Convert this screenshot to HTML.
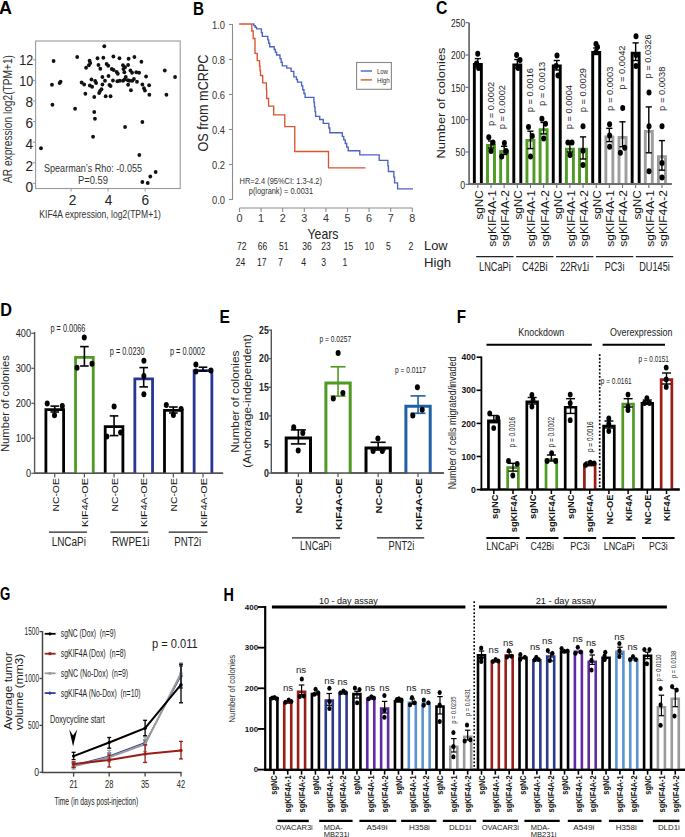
<!DOCTYPE html>
<html><head><meta charset="utf-8"><style>
html,body{margin:0;padding:0;background:#fff;}
body{width:685px;height:837px;overflow:hidden;}
svg{display:block;font-family:"Liberation Sans", sans-serif;}
</style></head><body>
<svg width="685" height="837" viewBox="0 0 685 837">
<rect x="0" y="0" width="685" height="837" fill="#fff"/>
<text x="-0.9" y="13.9" font-size="18.44" font-weight="bold" textLength="13" lengthAdjust="spacingAndGlyphs">A</text>
<rect x="35.6" y="41" width="144.6" height="147.5" fill="none" stroke="#9a9a9a" stroke-width="1.1"/>
<line x1="32.8" y1="183.4" x2="35.6" y2="183.4" stroke="#9a9a9a" stroke-width="1"/>
<text x="33.2" y="191.67" font-size="15" text-anchor="end" fill="#222" textLength="7.6" lengthAdjust="spacingAndGlyphs">0</text>
<line x1="32.8" y1="162.8" x2="35.6" y2="162.8" stroke="#9a9a9a" stroke-width="1"/>
<text x="33.2" y="170.57" font-size="15" text-anchor="end" fill="#222" textLength="7.6" lengthAdjust="spacingAndGlyphs">2</text>
<line x1="32.8" y1="142.2" x2="35.6" y2="142.2" stroke="#9a9a9a" stroke-width="1"/>
<text x="33.2" y="149.47" font-size="15" text-anchor="end" fill="#222" textLength="7.6" lengthAdjust="spacingAndGlyphs">4</text>
<line x1="32.8" y1="121.6" x2="35.6" y2="121.6" stroke="#9a9a9a" stroke-width="1"/>
<text x="33.2" y="128.37" font-size="15" text-anchor="end" fill="#222" textLength="7.6" lengthAdjust="spacingAndGlyphs">6</text>
<line x1="32.8" y1="101" x2="35.6" y2="101" stroke="#9a9a9a" stroke-width="1"/>
<text x="33.2" y="107.27" font-size="15" text-anchor="end" fill="#222" textLength="7.6" lengthAdjust="spacingAndGlyphs">8</text>
<line x1="32.8" y1="80.4" x2="35.6" y2="80.4" stroke="#9a9a9a" stroke-width="1"/>
<text x="33.2" y="86.17" font-size="15" text-anchor="end" fill="#222" textLength="13.9" lengthAdjust="spacingAndGlyphs">10</text>
<line x1="32.8" y1="59.8" x2="35.6" y2="59.8" stroke="#9a9a9a" stroke-width="1"/>
<text x="33.2" y="65.07" font-size="15" text-anchor="end" fill="#222" textLength="13.9" lengthAdjust="spacingAndGlyphs">12</text>
<line x1="71.09" y1="188.5" x2="71.09" y2="191.5" stroke="#9a9a9a" stroke-width="1"/>
<text x="72.6" y="205.37" font-size="15" text-anchor="middle" fill="#222" textLength="7.6" lengthAdjust="spacingAndGlyphs">2</text>
<line x1="108.13" y1="188.5" x2="108.13" y2="191.5" stroke="#9a9a9a" stroke-width="1"/>
<text x="108.5" y="205.37" font-size="15" text-anchor="middle" fill="#222" textLength="7.6" lengthAdjust="spacingAndGlyphs">4</text>
<line x1="145.17" y1="188.5" x2="145.17" y2="191.5" stroke="#9a9a9a" stroke-width="1"/>
<text x="145.4" y="205.37" font-size="15" text-anchor="middle" fill="#222" textLength="7.6" lengthAdjust="spacingAndGlyphs">6</text>
<text transform="translate(7.6 119) rotate(-90)" x="0" y="4.3" font-size="12" text-anchor="middle" fill="#333" textLength="128" lengthAdjust="spacingAndGlyphs">AR expression log2(TPM+1)</text>
<text x="39.3" y="217.52" font-size="11.5" fill="#333" textLength="121.5" lengthAdjust="spacingAndGlyphs">KIF4A expression, log2(TPM+1)</text>
<text x="44" y="171.57" font-size="10.8" fill="#333" textLength="98" lengthAdjust="spacingAndGlyphs">Spearman’s Rho: -0.055</text>
<text x="77.9" y="183.67" font-size="10.8" fill="#333" textLength="30" lengthAdjust="spacingAndGlyphs">P=0.59</text>
<ellipse cx="104.28" cy="46.21" rx="1.9" ry="2" fill="#111"/>
<ellipse cx="53.59" cy="60.93" rx="1.9" ry="2" fill="#111"/>
<ellipse cx="77.19" cy="56.96" rx="1.9" ry="2" fill="#111"/>
<ellipse cx="89.57" cy="60.69" rx="1.9" ry="2" fill="#111"/>
<ellipse cx="90.27" cy="63.03" rx="1.9" ry="2" fill="#111"/>
<ellipse cx="88.86" cy="65.37" rx="1.9" ry="2" fill="#111"/>
<ellipse cx="86.06" cy="67.7" rx="1.9" ry="2" fill="#111"/>
<ellipse cx="97.51" cy="58.36" rx="1.9" ry="2" fill="#111"/>
<ellipse cx="103.35" cy="57.66" rx="1.9" ry="2" fill="#111"/>
<ellipse cx="113.39" cy="56.49" rx="1.9" ry="2" fill="#111"/>
<ellipse cx="119.47" cy="58.36" rx="1.9" ry="2" fill="#111"/>
<ellipse cx="128.58" cy="58.83" rx="1.9" ry="2" fill="#111"/>
<ellipse cx="134.41" cy="56.96" rx="1.9" ry="2" fill="#111"/>
<ellipse cx="141.42" cy="61.63" rx="1.9" ry="2" fill="#111"/>
<ellipse cx="98.44" cy="64.9" rx="1.9" ry="2" fill="#111"/>
<ellipse cx="100.31" cy="68.64" rx="1.9" ry="2" fill="#111"/>
<ellipse cx="106.62" cy="63.97" rx="1.9" ry="2" fill="#111"/>
<ellipse cx="108.25" cy="65.83" rx="1.9" ry="2" fill="#111"/>
<ellipse cx="111.76" cy="69.1" rx="1.9" ry="2" fill="#111"/>
<ellipse cx="113.63" cy="70.04" rx="1.9" ry="2" fill="#111"/>
<ellipse cx="116.66" cy="71.91" rx="1.9" ry="2" fill="#111"/>
<ellipse cx="117.83" cy="73.78" rx="1.9" ry="2" fill="#111"/>
<ellipse cx="122.97" cy="65.37" rx="1.9" ry="2" fill="#111"/>
<ellipse cx="123.44" cy="69.1" rx="1.9" ry="2" fill="#111"/>
<ellipse cx="125.07" cy="67.24" rx="1.9" ry="2" fill="#111"/>
<ellipse cx="128.11" cy="64.9" rx="1.9" ry="2" fill="#111"/>
<ellipse cx="124.37" cy="72.37" rx="1.9" ry="2" fill="#111"/>
<ellipse cx="130.44" cy="70.51" rx="1.9" ry="2" fill="#111"/>
<ellipse cx="132.08" cy="72.84" rx="1.9" ry="2" fill="#111"/>
<ellipse cx="136.28" cy="72.37" rx="1.9" ry="2" fill="#111"/>
<ellipse cx="139.09" cy="72.84" rx="1.9" ry="2" fill="#111"/>
<ellipse cx="164.78" cy="70.51" rx="1.9" ry="2" fill="#111"/>
<ellipse cx="175.06" cy="77.05" rx="1.9" ry="2" fill="#111"/>
<ellipse cx="146.09" cy="76.58" rx="1.9" ry="2" fill="#111"/>
<ellipse cx="51.96" cy="84.75" rx="1.9" ry="2" fill="#111"/>
<ellipse cx="60.6" cy="81.72" rx="1.9" ry="2" fill="#111"/>
<ellipse cx="59.67" cy="82.89" rx="1.9" ry="2" fill="#111"/>
<ellipse cx="81.62" cy="82.42" rx="1.9" ry="2" fill="#111"/>
<ellipse cx="84.19" cy="84.52" rx="1.9" ry="2" fill="#111"/>
<ellipse cx="85.36" cy="93.86" rx="1.9" ry="2" fill="#111"/>
<ellipse cx="91.43" cy="79.38" rx="1.9" ry="2" fill="#111"/>
<ellipse cx="89.8" cy="85.46" rx="1.9" ry="2" fill="#111"/>
<ellipse cx="92.14" cy="86.86" rx="1.9" ry="2" fill="#111"/>
<ellipse cx="95.17" cy="81.02" rx="1.9" ry="2" fill="#111"/>
<ellipse cx="96.11" cy="83.12" rx="1.9" ry="2" fill="#111"/>
<ellipse cx="102.41" cy="77.05" rx="1.9" ry="2" fill="#111"/>
<ellipse cx="104.98" cy="80.78" rx="1.9" ry="2" fill="#111"/>
<ellipse cx="108.49" cy="76.11" rx="1.9" ry="2" fill="#111"/>
<ellipse cx="102.41" cy="84.52" rx="1.9" ry="2" fill="#111"/>
<ellipse cx="109.42" cy="84.99" rx="1.9" ry="2" fill="#111"/>
<ellipse cx="110.59" cy="85.92" rx="1.9" ry="2" fill="#111"/>
<ellipse cx="112.92" cy="80.55" rx="1.9" ry="2" fill="#111"/>
<ellipse cx="117.36" cy="81.25" rx="1.9" ry="2" fill="#111"/>
<ellipse cx="119.7" cy="80.78" rx="1.9" ry="2" fill="#111"/>
<ellipse cx="122.97" cy="80.78" rx="1.9" ry="2" fill="#111"/>
<ellipse cx="124.6" cy="79.38" rx="1.9" ry="2" fill="#111"/>
<ellipse cx="125.77" cy="77.05" rx="1.9" ry="2" fill="#111"/>
<ellipse cx="127.87" cy="80.32" rx="1.9" ry="2" fill="#111"/>
<ellipse cx="128.11" cy="84.75" rx="1.9" ry="2" fill="#111"/>
<ellipse cx="129.51" cy="80.78" rx="1.9" ry="2" fill="#111"/>
<ellipse cx="132.31" cy="80.78" rx="1.9" ry="2" fill="#111"/>
<ellipse cx="133.95" cy="78.91" rx="1.9" ry="2" fill="#111"/>
<ellipse cx="136.98" cy="81.72" rx="1.9" ry="2" fill="#111"/>
<ellipse cx="130.91" cy="90.13" rx="1.9" ry="2" fill="#111"/>
<ellipse cx="142.36" cy="84.52" rx="1.9" ry="2" fill="#111"/>
<ellipse cx="143.99" cy="88.26" rx="1.9" ry="2" fill="#111"/>
<ellipse cx="144.93" cy="90.59" rx="1.9" ry="2" fill="#111"/>
<ellipse cx="149.13" cy="85.22" rx="1.9" ry="2" fill="#111"/>
<ellipse cx="149.36" cy="94.8" rx="1.9" ry="2" fill="#111"/>
<ellipse cx="166.42" cy="94.8" rx="1.9" ry="2" fill="#111"/>
<ellipse cx="94.24" cy="96.9" rx="1.9" ry="2" fill="#111"/>
<ellipse cx="100.08" cy="91.06" rx="1.9" ry="2" fill="#111"/>
<ellipse cx="99.14" cy="92.93" rx="1.9" ry="2" fill="#111"/>
<ellipse cx="101.48" cy="89.19" rx="1.9" ry="2" fill="#111"/>
<ellipse cx="105.68" cy="96.2" rx="1.9" ry="2" fill="#111"/>
<ellipse cx="110.59" cy="96.2" rx="1.9" ry="2" fill="#111"/>
<ellipse cx="52.42" cy="104.84" rx="1.9" ry="2" fill="#111"/>
<ellipse cx="75.08" cy="108.81" rx="1.9" ry="2" fill="#111"/>
<ellipse cx="94.24" cy="112.08" rx="1.9" ry="2" fill="#111"/>
<ellipse cx="94.94" cy="118.63" rx="1.9" ry="2" fill="#111"/>
<ellipse cx="93.07" cy="136.85" rx="1.9" ry="2" fill="#111"/>
<ellipse cx="125.07" cy="127.03" rx="1.9" ry="2" fill="#111"/>
<ellipse cx="142.36" cy="121.9" rx="1.9" ry="2" fill="#111"/>
<ellipse cx="40.98" cy="148.29" rx="1.9" ry="2" fill="#111"/>
<ellipse cx="139.32" cy="155.07" rx="1.9" ry="2" fill="#111"/>
<ellipse cx="155.67" cy="172.12" rx="1.9" ry="2" fill="#111"/>
<ellipse cx="150.3" cy="176.56" rx="1.9" ry="2" fill="#111"/>
<ellipse cx="142.36" cy="181.93" rx="1.9" ry="2" fill="#111"/>
<ellipse cx="147.73" cy="183.1" rx="1.9" ry="2" fill="#111"/>
<text x="192.9" y="14.8" font-size="18.16" font-weight="bold" textLength="11" lengthAdjust="spacingAndGlyphs">B</text>
<line x1="232.5" y1="24" x2="232.5" y2="200" stroke="#8c8c8c" stroke-width="1.1"/>
<line x1="229" y1="24.5" x2="232.5" y2="24.5" stroke="#8c8c8c" stroke-width="1.1"/>
<text x="225" y="28.87" font-size="10.8" text-anchor="end" fill="#333" textLength="13" lengthAdjust="spacingAndGlyphs">1.0</text>
<line x1="229" y1="59.5" x2="232.5" y2="59.5" stroke="#8c8c8c" stroke-width="1.1"/>
<text x="225" y="63.87" font-size="10.8" text-anchor="end" fill="#333" textLength="13" lengthAdjust="spacingAndGlyphs">0.8</text>
<line x1="229" y1="94.5" x2="232.5" y2="94.5" stroke="#8c8c8c" stroke-width="1.1"/>
<text x="225" y="98.87" font-size="10.8" text-anchor="end" fill="#333" textLength="13" lengthAdjust="spacingAndGlyphs">0.6</text>
<line x1="229" y1="129.5" x2="232.5" y2="129.5" stroke="#8c8c8c" stroke-width="1.1"/>
<text x="225" y="133.87" font-size="10.8" text-anchor="end" fill="#333" textLength="13" lengthAdjust="spacingAndGlyphs">0.4</text>
<line x1="229" y1="164.5" x2="232.5" y2="164.5" stroke="#8c8c8c" stroke-width="1.1"/>
<text x="225" y="168.87" font-size="10.8" text-anchor="end" fill="#333" textLength="13" lengthAdjust="spacingAndGlyphs">0.2</text>
<line x1="229" y1="199.5" x2="232.5" y2="199.5" stroke="#8c8c8c" stroke-width="1.1"/>
<text x="225" y="203.87" font-size="10.8" text-anchor="end" fill="#333" textLength="13" lengthAdjust="spacingAndGlyphs">0.0</text>
<text transform="translate(202.7 103) rotate(-90)" x="0" y="5.08" font-size="14.2" text-anchor="middle" fill="#222" textLength="97" lengthAdjust="spacingAndGlyphs">OS from mCRPC</text>
<line x1="239.5" y1="208" x2="412.5" y2="208" stroke="#8c8c8c" stroke-width="1.1"/>
<line x1="239.5" y1="208" x2="239.5" y2="212" stroke="#8c8c8c" stroke-width="1.1"/>
<text x="239.5" y="222.47" font-size="10.8" text-anchor="middle" fill="#333" textLength="6" lengthAdjust="spacingAndGlyphs">0</text>
<line x1="261.1" y1="208" x2="261.1" y2="212" stroke="#8c8c8c" stroke-width="1.1"/>
<text x="261.1" y="222.47" font-size="10.8" text-anchor="middle" fill="#333" textLength="6" lengthAdjust="spacingAndGlyphs">1</text>
<line x1="282.7" y1="208" x2="282.7" y2="212" stroke="#8c8c8c" stroke-width="1.1"/>
<text x="282.7" y="222.47" font-size="10.8" text-anchor="middle" fill="#333" textLength="6" lengthAdjust="spacingAndGlyphs">2</text>
<line x1="304.3" y1="208" x2="304.3" y2="212" stroke="#8c8c8c" stroke-width="1.1"/>
<text x="304.3" y="222.47" font-size="10.8" text-anchor="middle" fill="#333" textLength="6" lengthAdjust="spacingAndGlyphs">3</text>
<line x1="325.9" y1="208" x2="325.9" y2="212" stroke="#8c8c8c" stroke-width="1.1"/>
<text x="325.9" y="222.47" font-size="10.8" text-anchor="middle" fill="#333" textLength="6" lengthAdjust="spacingAndGlyphs">4</text>
<line x1="347.5" y1="208" x2="347.5" y2="212" stroke="#8c8c8c" stroke-width="1.1"/>
<text x="347.5" y="222.47" font-size="10.8" text-anchor="middle" fill="#333" textLength="6" lengthAdjust="spacingAndGlyphs">5</text>
<line x1="369.1" y1="208" x2="369.1" y2="212" stroke="#8c8c8c" stroke-width="1.1"/>
<text x="369.1" y="222.47" font-size="10.8" text-anchor="middle" fill="#333" textLength="6" lengthAdjust="spacingAndGlyphs">6</text>
<line x1="390.7" y1="208" x2="390.7" y2="212" stroke="#8c8c8c" stroke-width="1.1"/>
<text x="390.7" y="222.47" font-size="10.8" text-anchor="middle" fill="#333" textLength="6" lengthAdjust="spacingAndGlyphs">7</text>
<line x1="412.3" y1="208" x2="412.3" y2="212" stroke="#8c8c8c" stroke-width="1.1"/>
<text x="412.3" y="222.47" font-size="10.8" text-anchor="middle" fill="#333" textLength="6" lengthAdjust="spacingAndGlyphs">8</text>
<text x="323" y="238.66" font-size="14.4" text-anchor="middle" fill="#222" textLength="31" lengthAdjust="spacingAndGlyphs">Years</text>
<text x="241.7" y="249.57" font-size="10.8" text-anchor="middle" fill="#222" textLength="9.5" lengthAdjust="spacingAndGlyphs">72</text>
<text x="262.6" y="249.57" font-size="10.8" text-anchor="middle" fill="#222" textLength="9.5" lengthAdjust="spacingAndGlyphs">66</text>
<text x="283.8" y="249.57" font-size="10.8" text-anchor="middle" fill="#222" textLength="9.5" lengthAdjust="spacingAndGlyphs">51</text>
<text x="307" y="249.57" font-size="10.8" text-anchor="middle" fill="#222" textLength="9.5" lengthAdjust="spacingAndGlyphs">36</text>
<text x="326" y="249.57" font-size="10.8" text-anchor="middle" fill="#222" textLength="9.5" lengthAdjust="spacingAndGlyphs">23</text>
<text x="348.4" y="249.57" font-size="10.8" text-anchor="middle" fill="#222" textLength="9.5" lengthAdjust="spacingAndGlyphs">15</text>
<text x="369.2" y="249.57" font-size="10.8" text-anchor="middle" fill="#222" textLength="9.5" lengthAdjust="spacingAndGlyphs">10</text>
<text x="388.5" y="249.57" font-size="10.8" text-anchor="middle" fill="#222" textLength="4.8" lengthAdjust="spacingAndGlyphs">5</text>
<text x="411" y="249.57" font-size="10.8" text-anchor="middle" fill="#222" textLength="4.8" lengthAdjust="spacingAndGlyphs">2</text>
<text x="240.5" y="266.27" font-size="10.8" text-anchor="middle" fill="#222" textLength="9.5" lengthAdjust="spacingAndGlyphs">24</text>
<text x="261.7" y="266.27" font-size="10.8" text-anchor="middle" fill="#222" textLength="9.5" lengthAdjust="spacingAndGlyphs">17</text>
<text x="280.3" y="266.27" font-size="10.8" text-anchor="middle" fill="#222" textLength="4.8" lengthAdjust="spacingAndGlyphs">7</text>
<text x="303.7" y="266.27" font-size="10.8" text-anchor="middle" fill="#222" textLength="4.8" lengthAdjust="spacingAndGlyphs">4</text>
<text x="323.6" y="266.27" font-size="10.8" text-anchor="middle" fill="#222" textLength="4.8" lengthAdjust="spacingAndGlyphs">3</text>
<text x="345" y="266.27" font-size="10.8" text-anchor="middle" fill="#222" textLength="4.8" lengthAdjust="spacingAndGlyphs">1</text>
<text x="424.1" y="250.23" font-size="13.5" fill="#222" textLength="23.5" lengthAdjust="spacingAndGlyphs">Low</text>
<text x="424.1" y="266.53" font-size="13.5" fill="#222" textLength="27" lengthAdjust="spacingAndGlyphs">High</text>
<text x="239.5" y="183.58" font-size="8.6" fill="#333" textLength="82.5" lengthAdjust="spacingAndGlyphs">HR=2.4 (95%CI: 1.3-4.2)</text>
<text x="248.8" y="194.18" font-size="8.6" fill="#333" textLength="64.2" lengthAdjust="spacingAndGlyphs">p(logrank) = 0.0031</text>
<rect x="356.6" y="62.5" width="34.8" height="26.8" fill="#fff" stroke="#888" stroke-width="1.1"/>
<line x1="360.7" y1="71" x2="372" y2="71" stroke="#4a63c4" stroke-width="1.4"/>
<line x1="360.7" y1="79.9" x2="372" y2="79.9" stroke="#d9552f" stroke-width="1.4"/>
<text x="376.9" y="73.89" font-size="7.8" fill="#333" textLength="11.1" lengthAdjust="spacingAndGlyphs">Low</text>
<text x="376.9" y="82.69" font-size="7.8" fill="#333" textLength="12.8" lengthAdjust="spacingAndGlyphs">High</text>
<path d="M252.5,24H253.87V25.6H255.23V27.2H256.6V28.8H260.5H261.4V32.6H262.3V36.4H266.8H267.77V39.83H268.73V43.27H269.7V46.7H273H274.2V49.47H275.4V52.23H276.6V55H278.8H279.97V58.6H281.13V62.2H282.3V65.8H286.4H286.8V68.1H290.5H291.1V71.3H293.4H293.8V76.9H295.3H296.4V79.5H297.5V82.1H300.4H301.57V85.9H302.75V89.7H303.93V93.5H305.1V97.3H313.3H313.88V102.05H314.45V106.8H315.03V111.55H315.6V116.3H318.5H319.7V119.5H322.6H323.2V123.3H327.9H328.85V128H329.8V132.7H340.8H342.28V136.3H343.76V139.9H345.24V143.5H346.72V147.1H348.2V150.7H359.8H359.8V154.8H379.2H379.2V160.3H387.4H387.9V165.9H388.4V171.5H393.1H393.85V177.15H394.6V182.8H397.6H397.6V188.9H413" stroke="#4a63c4" stroke-width="1.35" fill="none"/>
<path d="M239.1,24H251.8V31H253.2V38.5H255V53.3H257.2V60.6H259.1H259.6V66H260V70.5H260.5V75.5H262.7V82.8H266.1H266.4V90H266.7V98.5H268.6V106.1H273.7V114.9H284.8V126.6H294.8V151.5H328.5V167.9H365.5" stroke="#d9552f" stroke-width="1.35" fill="none"/>
<text x="436" y="13.9" font-size="18.16" font-weight="bold" textLength="11.4" lengthAdjust="spacingAndGlyphs">C</text>
<line x1="469.1" y1="22.7" x2="469.1" y2="185" stroke="#6f6f6f" stroke-width="1.8"/>
<line x1="465.5" y1="184.3" x2="469.1" y2="184.3" stroke="#6f6f6f" stroke-width="1.2"/>
<text x="465.2" y="188.52" font-size="11.8" text-anchor="end" fill="#222" textLength="4.9" lengthAdjust="spacingAndGlyphs">0</text>
<line x1="465.5" y1="151.98" x2="469.1" y2="151.98" stroke="#6f6f6f" stroke-width="1.2"/>
<text x="465.2" y="156.2" font-size="11.8" text-anchor="end" fill="#222" textLength="9.6" lengthAdjust="spacingAndGlyphs">50</text>
<line x1="465.5" y1="119.66" x2="469.1" y2="119.66" stroke="#6f6f6f" stroke-width="1.2"/>
<text x="465.2" y="123.88" font-size="11.8" text-anchor="end" fill="#222" textLength="14.1" lengthAdjust="spacingAndGlyphs">100</text>
<line x1="465.5" y1="87.34" x2="469.1" y2="87.34" stroke="#6f6f6f" stroke-width="1.2"/>
<text x="465.2" y="91.56" font-size="11.8" text-anchor="end" fill="#222" textLength="14.1" lengthAdjust="spacingAndGlyphs">150</text>
<line x1="465.5" y1="55.02" x2="469.1" y2="55.02" stroke="#6f6f6f" stroke-width="1.2"/>
<text x="465.2" y="59.24" font-size="11.8" text-anchor="end" fill="#222" textLength="14.1" lengthAdjust="spacingAndGlyphs">200</text>
<line x1="465.5" y1="22.7" x2="469.1" y2="22.7" stroke="#6f6f6f" stroke-width="1.2"/>
<text x="465.2" y="26.92" font-size="11.8" text-anchor="end" fill="#222" textLength="14.1" lengthAdjust="spacingAndGlyphs">250</text>
<text transform="translate(440.7 103) rotate(-90)" x="0" y="3.94" font-size="11" text-anchor="middle" fill="#222" textLength="111" lengthAdjust="spacingAndGlyphs">Number of colonies</text>
<line x1="468.2" y1="184" x2="671.7" y2="184" stroke="#6f6f6f" stroke-width="1.8"/>
<path d="M474.35,184.5V64.55H481.35V184.5" fill="#fff" stroke="#000" stroke-width="2.9" stroke-linejoin="miter"/>
<line x1="477.85" y1="58.6" x2="477.85" y2="67" stroke="#000" stroke-width="1.4"/>
<line x1="474.75" y1="58.6" x2="480.95" y2="58.6" stroke="#000" stroke-width="1.4"/>
<line x1="474.75" y1="67" x2="480.95" y2="67" stroke="#000" stroke-width="1.4"/>
<ellipse cx="477.7" cy="53.8" rx="2.5" ry="3" fill="#000"/>
<ellipse cx="476.5" cy="63.5" rx="2.5" ry="3" fill="#000"/>
<ellipse cx="478.6" cy="68" rx="2.5" ry="3" fill="#000"/>
<line x1="477.85" y1="184.5" x2="477.85" y2="188" stroke="#6f6f6f" stroke-width="1.1"/>
<text transform="translate(479.25 190.2) rotate(-90)" x="0" y="3.58" font-size="10" text-anchor="end" fill="#111" textLength="29.3" lengthAdjust="spacingAndGlyphs">sgNC</text>
<path d="M487.5,184.5V145.35H494.5V184.5" fill="#fff" stroke="#4f9a22" stroke-width="2.9" stroke-linejoin="miter"/>
<line x1="491" y1="141" x2="491" y2="148" stroke="#000" stroke-width="1.4"/>
<line x1="487.9" y1="141" x2="494.1" y2="141" stroke="#000" stroke-width="1.4"/>
<line x1="487.9" y1="148" x2="494.1" y2="148" stroke="#000" stroke-width="1.4"/>
<ellipse cx="488.8" cy="137.3" rx="2.5" ry="3" fill="#000"/>
<ellipse cx="493" cy="142.5" rx="2.5" ry="3" fill="#000"/>
<ellipse cx="491" cy="150.9" rx="2.5" ry="3" fill="#000"/>
<line x1="491" y1="184.5" x2="491" y2="188" stroke="#6f6f6f" stroke-width="1.1"/>
<text transform="translate(492.4 190.2) rotate(-90)" x="0" y="3.58" font-size="10" text-anchor="end" fill="#111" textLength="56.5" lengthAdjust="spacingAndGlyphs">sgKIF4A-1</text>
<path d="M500.65,184.5V151.55H507.65V184.5" fill="#fff" stroke="#4f9a22" stroke-width="2.9" stroke-linejoin="miter"/>
<line x1="504.15" y1="146.3" x2="504.15" y2="154.5" stroke="#000" stroke-width="1.4"/>
<line x1="501.05" y1="146.3" x2="507.25" y2="146.3" stroke="#000" stroke-width="1.4"/>
<line x1="501.05" y1="154.5" x2="507.25" y2="154.5" stroke="#000" stroke-width="1.4"/>
<ellipse cx="504.4" cy="143" rx="2.5" ry="3" fill="#000"/>
<ellipse cx="506.2" cy="150.9" rx="2.5" ry="3" fill="#000"/>
<ellipse cx="501.7" cy="156.6" rx="2.5" ry="3" fill="#000"/>
<line x1="504.15" y1="184.5" x2="504.15" y2="188" stroke="#6f6f6f" stroke-width="1.1"/>
<text transform="translate(505.55 190.2) rotate(-90)" x="0" y="3.58" font-size="10" text-anchor="end" fill="#111" textLength="56.5" lengthAdjust="spacingAndGlyphs">sgKIF4A-2</text>
<path d="M513.8,184.5V64.95H520.8V184.5" fill="#fff" stroke="#000" stroke-width="2.9" stroke-linejoin="miter"/>
<line x1="517.3" y1="59.5" x2="517.3" y2="68" stroke="#000" stroke-width="1.4"/>
<line x1="514.2" y1="59.5" x2="520.4" y2="59.5" stroke="#000" stroke-width="1.4"/>
<line x1="514.2" y1="68" x2="520.4" y2="68" stroke="#000" stroke-width="1.4"/>
<ellipse cx="516.6" cy="54.9" rx="2.5" ry="3" fill="#000"/>
<ellipse cx="520" cy="60.1" rx="2.5" ry="3" fill="#000"/>
<ellipse cx="518" cy="68.1" rx="2.5" ry="3" fill="#000"/>
<line x1="517.3" y1="184.5" x2="517.3" y2="188" stroke="#6f6f6f" stroke-width="1.1"/>
<text transform="translate(518.7 190.2) rotate(-90)" x="0" y="3.58" font-size="10" text-anchor="end" fill="#111" textLength="29.3" lengthAdjust="spacingAndGlyphs">sgNC</text>
<path d="M526.95,184.5V140.35H533.95V184.5" fill="#fff" stroke="#4f9a22" stroke-width="2.9" stroke-linejoin="miter"/>
<line x1="530.45" y1="131.2" x2="530.45" y2="148.6" stroke="#000" stroke-width="1.4"/>
<line x1="527.35" y1="131.2" x2="533.55" y2="131.2" stroke="#000" stroke-width="1.4"/>
<line x1="527.35" y1="148.6" x2="533.55" y2="148.6" stroke="#000" stroke-width="1.4"/>
<ellipse cx="528.5" cy="127" rx="2.5" ry="3" fill="#000"/>
<ellipse cx="532.3" cy="136.1" rx="2.5" ry="3" fill="#000"/>
<ellipse cx="530.5" cy="156.6" rx="2.5" ry="3" fill="#000"/>
<line x1="530.45" y1="184.5" x2="530.45" y2="188" stroke="#6f6f6f" stroke-width="1.1"/>
<text transform="translate(531.85 190.2) rotate(-90)" x="0" y="3.58" font-size="10" text-anchor="end" fill="#111" textLength="56.5" lengthAdjust="spacingAndGlyphs">sgKIF4A-1</text>
<path d="M540.1,184.5V129.65H547.1V184.5" fill="#fff" stroke="#4f9a22" stroke-width="2.9" stroke-linejoin="miter"/>
<line x1="543.6" y1="122.5" x2="543.6" y2="133.9" stroke="#000" stroke-width="1.4"/>
<line x1="540.5" y1="122.5" x2="546.7" y2="122.5" stroke="#000" stroke-width="1.4"/>
<line x1="540.5" y1="133.9" x2="546.7" y2="133.9" stroke="#000" stroke-width="1.4"/>
<ellipse cx="541.9" cy="118.7" rx="2.5" ry="3" fill="#000"/>
<ellipse cx="545.5" cy="123.7" rx="2.5" ry="3" fill="#000"/>
<ellipse cx="543.7" cy="138.4" rx="2.5" ry="3" fill="#000"/>
<line x1="543.6" y1="184.5" x2="543.6" y2="188" stroke="#6f6f6f" stroke-width="1.1"/>
<text transform="translate(545 190.2) rotate(-90)" x="0" y="3.58" font-size="10" text-anchor="end" fill="#111" textLength="56.5" lengthAdjust="spacingAndGlyphs">sgKIF4A-2</text>
<path d="M553.25,184.5V66.05H560.25V184.5" fill="#fff" stroke="#000" stroke-width="2.9" stroke-linejoin="miter"/>
<line x1="556.75" y1="60.5" x2="556.75" y2="70" stroke="#000" stroke-width="1.4"/>
<line x1="553.65" y1="60.5" x2="559.85" y2="60.5" stroke="#000" stroke-width="1.4"/>
<line x1="553.65" y1="70" x2="559.85" y2="70" stroke="#000" stroke-width="1.4"/>
<ellipse cx="557" cy="55.5" rx="2.5" ry="3" fill="#000"/>
<ellipse cx="556" cy="66" rx="2.5" ry="3" fill="#000"/>
<ellipse cx="558" cy="75.5" rx="2.5" ry="3" fill="#000"/>
<line x1="556.75" y1="184.5" x2="556.75" y2="188" stroke="#6f6f6f" stroke-width="1.1"/>
<text transform="translate(558.15 190.2) rotate(-90)" x="0" y="3.58" font-size="10" text-anchor="end" fill="#111" textLength="29.3" lengthAdjust="spacingAndGlyphs">sgNC</text>
<path d="M566.4,184.5V149.15H573.4V184.5" fill="#fff" stroke="#4f9a22" stroke-width="2.9" stroke-linejoin="miter"/>
<line x1="569.9" y1="143.5" x2="569.9" y2="152" stroke="#000" stroke-width="1.4"/>
<line x1="566.8" y1="143.5" x2="573" y2="143.5" stroke="#000" stroke-width="1.4"/>
<line x1="566.8" y1="152" x2="573" y2="152" stroke="#000" stroke-width="1.4"/>
<ellipse cx="567.9" cy="142.6" rx="2.5" ry="3" fill="#000"/>
<ellipse cx="572" cy="142.6" rx="2.5" ry="3" fill="#000"/>
<ellipse cx="570" cy="154.9" rx="2.5" ry="3" fill="#000"/>
<line x1="569.9" y1="184.5" x2="569.9" y2="188" stroke="#6f6f6f" stroke-width="1.1"/>
<text transform="translate(571.3 190.2) rotate(-90)" x="0" y="3.58" font-size="10" text-anchor="end" fill="#111" textLength="56.5" lengthAdjust="spacingAndGlyphs">sgKIF4A-1</text>
<path d="M579.55,184.5V149.15H586.55V184.5" fill="#fff" stroke="#4f9a22" stroke-width="2.9" stroke-linejoin="miter"/>
<line x1="583.05" y1="136.9" x2="583.05" y2="159" stroke="#000" stroke-width="1.4"/>
<line x1="579.95" y1="136.9" x2="586.15" y2="136.9" stroke="#000" stroke-width="1.4"/>
<line x1="579.95" y1="159" x2="586.15" y2="159" stroke="#000" stroke-width="1.4"/>
<ellipse cx="583" cy="126.3" rx="2.5" ry="3" fill="#000"/>
<ellipse cx="583" cy="150.8" rx="2.5" ry="3" fill="#000"/>
<ellipse cx="583" cy="165.1" rx="2.5" ry="3" fill="#000"/>
<line x1="583.05" y1="184.5" x2="583.05" y2="188" stroke="#6f6f6f" stroke-width="1.1"/>
<text transform="translate(584.45 190.2) rotate(-90)" x="0" y="3.58" font-size="10" text-anchor="end" fill="#111" textLength="56.5" lengthAdjust="spacingAndGlyphs">sgKIF4A-2</text>
<path d="M592.7,184.5V52.55H599.7V184.5" fill="#fff" stroke="#000" stroke-width="2.9" stroke-linejoin="miter"/>
<line x1="596.2" y1="48" x2="596.2" y2="54.5" stroke="#000" stroke-width="1.4"/>
<line x1="593.1" y1="48" x2="599.3" y2="48" stroke="#000" stroke-width="1.4"/>
<line x1="593.1" y1="54.5" x2="599.3" y2="54.5" stroke="#000" stroke-width="1.4"/>
<ellipse cx="596" cy="44" rx="2.5" ry="3" fill="#000"/>
<ellipse cx="597.5" cy="47" rx="2.5" ry="3" fill="#000"/>
<ellipse cx="596" cy="52" rx="2.5" ry="3" fill="#000"/>
<line x1="596.2" y1="184.5" x2="596.2" y2="188" stroke="#6f6f6f" stroke-width="1.1"/>
<text transform="translate(597.6 190.2) rotate(-90)" x="0" y="3.58" font-size="10" text-anchor="end" fill="#111" textLength="29.3" lengthAdjust="spacingAndGlyphs">sgNC</text>
<path d="M605.85,184.5V136.95H612.85V184.5" fill="#fff" stroke="#9d9d9d" stroke-width="2.9" stroke-linejoin="miter"/>
<line x1="609.35" y1="128.3" x2="609.35" y2="141.6" stroke="#000" stroke-width="1.4"/>
<line x1="606.25" y1="128.3" x2="612.45" y2="128.3" stroke="#000" stroke-width="1.4"/>
<line x1="606.25" y1="141.6" x2="612.45" y2="141.6" stroke="#000" stroke-width="1.4"/>
<ellipse cx="609.6" cy="124.2" rx="2.5" ry="3" fill="#000"/>
<ellipse cx="609.6" cy="135.5" rx="2.5" ry="3" fill="#000"/>
<ellipse cx="609.6" cy="146.7" rx="2.5" ry="3" fill="#000"/>
<line x1="609.35" y1="184.5" x2="609.35" y2="188" stroke="#6f6f6f" stroke-width="1.1"/>
<text transform="translate(610.75 190.2) rotate(-90)" x="0" y="3.58" font-size="10" text-anchor="end" fill="#111" textLength="56.5" lengthAdjust="spacingAndGlyphs">sgKIF4A-1</text>
<path d="M619,184.5V137.55H626V184.5" fill="#fff" stroke="#9d9d9d" stroke-width="2.9" stroke-linejoin="miter"/>
<line x1="622.5" y1="121.8" x2="622.5" y2="146.7" stroke="#000" stroke-width="1.4"/>
<line x1="619.4" y1="121.8" x2="625.6" y2="121.8" stroke="#000" stroke-width="1.4"/>
<line x1="619.4" y1="146.7" x2="625.6" y2="146.7" stroke="#000" stroke-width="1.4"/>
<ellipse cx="622.7" cy="107.9" rx="2.5" ry="3" fill="#000"/>
<ellipse cx="624.7" cy="147.7" rx="2.5" ry="3" fill="#000"/>
<ellipse cx="620.4" cy="152.8" rx="2.5" ry="3" fill="#000"/>
<line x1="622.5" y1="184.5" x2="622.5" y2="188" stroke="#6f6f6f" stroke-width="1.1"/>
<text transform="translate(623.9 190.2) rotate(-90)" x="0" y="3.58" font-size="10" text-anchor="end" fill="#111" textLength="56.5" lengthAdjust="spacingAndGlyphs">sgKIF4A-2</text>
<path d="M632.15,184.5V53.15H639.15V184.5" fill="#fff" stroke="#000" stroke-width="2.9" stroke-linejoin="miter"/>
<line x1="635.65" y1="42.9" x2="635.65" y2="60.5" stroke="#000" stroke-width="1.4"/>
<line x1="632.55" y1="42.9" x2="638.75" y2="42.9" stroke="#000" stroke-width="1.4"/>
<line x1="632.55" y1="60.5" x2="638.75" y2="60.5" stroke="#000" stroke-width="1.4"/>
<ellipse cx="636" cy="36.3" rx="2.5" ry="3" fill="#000"/>
<ellipse cx="636" cy="55" rx="2.5" ry="3" fill="#000"/>
<ellipse cx="636" cy="66" rx="2.5" ry="3" fill="#000"/>
<line x1="635.65" y1="184.5" x2="635.65" y2="188" stroke="#6f6f6f" stroke-width="1.1"/>
<text transform="translate(637.05 190.2) rotate(-90)" x="0" y="3.58" font-size="10" text-anchor="end" fill="#111" textLength="29.3" lengthAdjust="spacingAndGlyphs">sgNC</text>
<path d="M645.3,184.5V131.45H652.3V184.5" fill="#fff" stroke="#9d9d9d" stroke-width="2.9" stroke-linejoin="miter"/>
<line x1="648.8" y1="106.9" x2="648.8" y2="152.8" stroke="#000" stroke-width="1.4"/>
<line x1="645.7" y1="106.9" x2="651.9" y2="106.9" stroke="#000" stroke-width="1.4"/>
<line x1="645.7" y1="152.8" x2="651.9" y2="152.8" stroke="#000" stroke-width="1.4"/>
<ellipse cx="649" cy="92.6" rx="2.5" ry="3" fill="#000"/>
<ellipse cx="649" cy="126.3" rx="2.5" ry="3" fill="#000"/>
<ellipse cx="649" cy="171.2" rx="2.5" ry="3" fill="#000"/>
<line x1="648.8" y1="184.5" x2="648.8" y2="188" stroke="#6f6f6f" stroke-width="1.1"/>
<text transform="translate(650.2 190.2) rotate(-90)" x="0" y="3.58" font-size="10" text-anchor="end" fill="#111" textLength="56.5" lengthAdjust="spacingAndGlyphs">sgKIF4A-1</text>
<path d="M658.45,184.5V156.75H665.45V184.5" fill="#fff" stroke="#9d9d9d" stroke-width="2.9" stroke-linejoin="miter"/>
<line x1="661.95" y1="140.6" x2="661.95" y2="170.2" stroke="#000" stroke-width="1.4"/>
<line x1="658.85" y1="140.6" x2="665.05" y2="140.6" stroke="#000" stroke-width="1.4"/>
<line x1="658.85" y1="170.2" x2="665.05" y2="170.2" stroke="#000" stroke-width="1.4"/>
<ellipse cx="662" cy="126.3" rx="2.5" ry="3" fill="#000"/>
<ellipse cx="662" cy="163" rx="2.5" ry="3" fill="#000"/>
<ellipse cx="662" cy="177.4" rx="2.5" ry="3" fill="#000"/>
<line x1="661.95" y1="184.5" x2="661.95" y2="188" stroke="#6f6f6f" stroke-width="1.1"/>
<text transform="translate(663.35 190.2) rotate(-90)" x="0" y="3.58" font-size="10" text-anchor="end" fill="#111" textLength="56.5" lengthAdjust="spacingAndGlyphs">sgKIF4A-2</text>
<text transform="translate(491.2 103.85) rotate(-90)" x="0" y="2.97" font-size="8.3" text-anchor="middle" fill="#222" textLength="44.3" lengthAdjust="spacingAndGlyphs">p = 0.0002</text>
<text transform="translate(502.2 107.15) rotate(-90)" x="0" y="2.97" font-size="8.3" text-anchor="middle" fill="#222" textLength="44.3" lengthAdjust="spacingAndGlyphs">p = 0.0002</text>
<text transform="translate(530 90.15) rotate(-90)" x="0" y="2.97" font-size="8.3" text-anchor="middle" fill="#222" textLength="44.3" lengthAdjust="spacingAndGlyphs">p = 0.0016</text>
<text transform="translate(542.5 83.85) rotate(-90)" x="0" y="2.97" font-size="8.3" text-anchor="middle" fill="#222" textLength="44.3" lengthAdjust="spacingAndGlyphs">p = 0.0013</text>
<text transform="translate(569 107.15) rotate(-90)" x="0" y="2.97" font-size="8.3" text-anchor="middle" fill="#222" textLength="44.3" lengthAdjust="spacingAndGlyphs">p = 0.0004</text>
<text transform="translate(582.8 90.15) rotate(-90)" x="0" y="2.97" font-size="8.3" text-anchor="middle" fill="#222" textLength="44.3" lengthAdjust="spacingAndGlyphs">p = 0.0029</text>
<text transform="translate(610 88.75) rotate(-90)" x="0" y="2.97" font-size="8.3" text-anchor="middle" fill="#222" textLength="44.3" lengthAdjust="spacingAndGlyphs">p = 0.0003</text>
<text transform="translate(622.2 67.65) rotate(-90)" x="0" y="2.97" font-size="8.3" text-anchor="middle" fill="#222" textLength="44.3" lengthAdjust="spacingAndGlyphs">p = 0.0042</text>
<text transform="translate(648.3 56.45) rotate(-90)" x="0" y="2.97" font-size="8.3" text-anchor="middle" fill="#222" textLength="44.3" lengthAdjust="spacingAndGlyphs">p = 0.0326</text>
<text transform="translate(661.9 88.75) rotate(-90)" x="0" y="2.97" font-size="8.3" text-anchor="middle" fill="#222" textLength="44.3" lengthAdjust="spacingAndGlyphs">p = 0.0038</text>
<line x1="468.2" y1="184" x2="671.7" y2="184" stroke="#6f6f6f" stroke-width="1.8"/>
<line x1="476.2" y1="256.6" x2="513.6" y2="256.6" stroke="#222" stroke-width="1.2"/>
<text x="494.9" y="270.68" font-size="12.5" text-anchor="middle" fill="#222" textLength="31.7" lengthAdjust="spacingAndGlyphs">LNCaPi</text>
<line x1="516.1" y1="256.6" x2="553.5" y2="256.6" stroke="#222" stroke-width="1.2"/>
<text x="534.8" y="270.68" font-size="12.5" text-anchor="middle" fill="#222" textLength="25.5" lengthAdjust="spacingAndGlyphs">C42Bi</text>
<line x1="556" y1="256.6" x2="593.4" y2="256.6" stroke="#222" stroke-width="1.2"/>
<text x="574.7" y="270.68" font-size="12.5" text-anchor="middle" fill="#222" textLength="29" lengthAdjust="spacingAndGlyphs">22Rv1i</text>
<line x1="595.9" y1="256.6" x2="633.3" y2="256.6" stroke="#222" stroke-width="1.2"/>
<text x="614.6" y="270.68" font-size="12.5" text-anchor="middle" fill="#222" textLength="19.6" lengthAdjust="spacingAndGlyphs">PC3i</text>
<line x1="635.8" y1="256.6" x2="673.2" y2="256.6" stroke="#222" stroke-width="1.2"/>
<text x="654.5" y="270.68" font-size="12.5" text-anchor="middle" fill="#222" textLength="30.6" lengthAdjust="spacingAndGlyphs">DU145i</text>
<text x="0.2" y="315.6" font-size="19.27" font-weight="bold" textLength="11.7" lengthAdjust="spacingAndGlyphs">D</text>
<line x1="34.6" y1="332" x2="34.6" y2="474" stroke="#555" stroke-width="1.4"/>
<line x1="31.4" y1="473.3" x2="34.6" y2="473.3" stroke="#555" stroke-width="1.2"/>
<text x="31" y="476.72" font-size="10.4" text-anchor="end" fill="#222" textLength="5.1" lengthAdjust="spacingAndGlyphs">0</text>
<line x1="31.4" y1="438.3" x2="34.6" y2="438.3" stroke="#555" stroke-width="1.2"/>
<text x="31" y="441.72" font-size="10.4" text-anchor="end" fill="#222" textLength="15.3" lengthAdjust="spacingAndGlyphs">100</text>
<line x1="31.4" y1="403.3" x2="34.6" y2="403.3" stroke="#555" stroke-width="1.2"/>
<text x="31" y="406.72" font-size="10.4" text-anchor="end" fill="#222" textLength="15.3" lengthAdjust="spacingAndGlyphs">200</text>
<line x1="31.4" y1="368.3" x2="34.6" y2="368.3" stroke="#555" stroke-width="1.2"/>
<text x="31" y="371.72" font-size="10.4" text-anchor="end" fill="#222" textLength="15.3" lengthAdjust="spacingAndGlyphs">300</text>
<line x1="31.4" y1="333.3" x2="34.6" y2="333.3" stroke="#555" stroke-width="1.2"/>
<text x="31" y="336.72" font-size="10.4" text-anchor="end" fill="#222" textLength="15.3" lengthAdjust="spacingAndGlyphs">400</text>
<text transform="translate(4.8 403.6) rotate(-90)" x="0" y="3.79" font-size="10.6" text-anchor="middle" fill="#222" textLength="96.8" lengthAdjust="spacingAndGlyphs">Number of colonies</text>
<line x1="34" y1="473.3" x2="223.1" y2="473.3" stroke="#555" stroke-width="1.5"/>
<path d="M45.9,474V409.7H63.6V474" fill="#fff" stroke="#000" stroke-width="2.8" stroke-linejoin="miter"/>
<line x1="54.75" y1="406.1" x2="54.75" y2="412" stroke="#000" stroke-width="1.6"/>
<line x1="50.45" y1="406.1" x2="59.05" y2="406.1" stroke="#000" stroke-width="1.6"/>
<line x1="50.45" y1="412" x2="59.05" y2="412" stroke="#000" stroke-width="1.6"/>
<ellipse cx="47.2" cy="403.4" rx="2.5" ry="3" fill="#000"/>
<ellipse cx="54.5" cy="415.3" rx="2.5" ry="3" fill="#000"/>
<ellipse cx="62.3" cy="406.1" rx="2.5" ry="3" fill="#000"/>
<line x1="54.75" y1="473.5" x2="54.75" y2="477.5" stroke="#555" stroke-width="1.2"/>
<text transform="translate(55.05 478.2) rotate(-90)" x="0" y="3.44" font-size="9.6" text-anchor="end" fill="#111" textLength="33.3" lengthAdjust="spacingAndGlyphs">NC-OE</text>
<path d="M75.55,474V357.3H93.25V474" fill="#fff" stroke="#4f9a22" stroke-width="2.8" stroke-linejoin="miter"/>
<line x1="84.4" y1="346.6" x2="84.4" y2="366" stroke="#000" stroke-width="1.6"/>
<line x1="80.1" y1="346.6" x2="88.7" y2="346.6" stroke="#000" stroke-width="1.6"/>
<line x1="80.1" y1="366" x2="88.7" y2="366" stroke="#000" stroke-width="1.6"/>
<ellipse cx="84.3" cy="337.4" rx="2.5" ry="3" fill="#000"/>
<ellipse cx="77" cy="367.7" rx="2.5" ry="3" fill="#000"/>
<ellipse cx="92" cy="363.8" rx="2.5" ry="3" fill="#000"/>
<line x1="84.4" y1="473.5" x2="84.4" y2="477.5" stroke="#555" stroke-width="1.2"/>
<text transform="translate(84.7 478.2) rotate(-90)" x="0" y="3.44" font-size="9.6" text-anchor="end" fill="#111" textLength="48.8" lengthAdjust="spacingAndGlyphs">KIF4A-OE</text>
<path d="M105.2,474V426.7H122.9V474" fill="#fff" stroke="#000" stroke-width="2.8" stroke-linejoin="miter"/>
<line x1="114.05" y1="415.9" x2="114.05" y2="435.6" stroke="#000" stroke-width="1.6"/>
<line x1="109.75" y1="415.9" x2="118.35" y2="415.9" stroke="#000" stroke-width="1.6"/>
<line x1="109.75" y1="435.6" x2="118.35" y2="435.6" stroke="#000" stroke-width="1.6"/>
<ellipse cx="114.1" cy="406.6" rx="2.5" ry="3" fill="#000"/>
<ellipse cx="106.8" cy="436.6" rx="2.5" ry="3" fill="#000"/>
<ellipse cx="120.6" cy="432.6" rx="2.5" ry="3" fill="#000"/>
<line x1="114.05" y1="473.5" x2="114.05" y2="477.5" stroke="#555" stroke-width="1.2"/>
<text transform="translate(114.35 478.2) rotate(-90)" x="0" y="3.44" font-size="9.6" text-anchor="end" fill="#111" textLength="33.3" lengthAdjust="spacingAndGlyphs">NC-OE</text>
<path d="M134.85,474V378.8H152.55V474" fill="#fff" stroke="#283593" stroke-width="2.8" stroke-linejoin="miter"/>
<line x1="143.7" y1="367.6" x2="143.7" y2="386.9" stroke="#000" stroke-width="1.6"/>
<line x1="139.4" y1="367.6" x2="148" y2="367.6" stroke="#000" stroke-width="1.6"/>
<line x1="139.4" y1="386.9" x2="148" y2="386.9" stroke="#000" stroke-width="1.6"/>
<ellipse cx="143.9" cy="360.7" rx="2.5" ry="3" fill="#000"/>
<ellipse cx="143.9" cy="376.1" rx="2.5" ry="3" fill="#000"/>
<ellipse cx="143.9" cy="394.2" rx="2.5" ry="3" fill="#000"/>
<line x1="143.7" y1="473.5" x2="143.7" y2="477.5" stroke="#555" stroke-width="1.2"/>
<text transform="translate(144 478.2) rotate(-90)" x="0" y="3.44" font-size="9.6" text-anchor="end" fill="#111" textLength="48.8" lengthAdjust="spacingAndGlyphs">KIF4A-OE</text>
<path d="M164.5,474V410.4H182.2V474" fill="#fff" stroke="#000" stroke-width="2.8" stroke-linejoin="miter"/>
<line x1="173.35" y1="407" x2="173.35" y2="413" stroke="#000" stroke-width="1.6"/>
<line x1="169.05" y1="407" x2="177.65" y2="407" stroke="#000" stroke-width="1.6"/>
<line x1="169.05" y1="413" x2="177.65" y2="413" stroke="#000" stroke-width="1.6"/>
<ellipse cx="166.3" cy="405" rx="2.5" ry="3" fill="#000"/>
<ellipse cx="173.4" cy="414.9" rx="2.5" ry="3" fill="#000"/>
<ellipse cx="181.1" cy="409" rx="2.5" ry="3" fill="#000"/>
<line x1="173.35" y1="473.5" x2="173.35" y2="477.5" stroke="#555" stroke-width="1.2"/>
<text transform="translate(173.65 478.2) rotate(-90)" x="0" y="3.44" font-size="9.6" text-anchor="end" fill="#111" textLength="33.3" lengthAdjust="spacingAndGlyphs">NC-OE</text>
<path d="M194.15,474V370.6H211.85V474" fill="#fff" stroke="#283593" stroke-width="2.8" stroke-linejoin="miter"/>
<line x1="203" y1="367.2" x2="203" y2="371" stroke="#000" stroke-width="1.6"/>
<line x1="198.7" y1="367.2" x2="207.3" y2="367.2" stroke="#000" stroke-width="1.6"/>
<line x1="198.7" y1="371" x2="207.3" y2="371" stroke="#000" stroke-width="1.6"/>
<ellipse cx="195.9" cy="364.6" rx="2.5" ry="3" fill="#000"/>
<ellipse cx="195.9" cy="371.5" rx="2.5" ry="3" fill="#000"/>
<ellipse cx="210.9" cy="370.5" rx="2.5" ry="3" fill="#000"/>
<line x1="203" y1="473.5" x2="203" y2="477.5" stroke="#555" stroke-width="1.2"/>
<text transform="translate(203.3 478.2) rotate(-90)" x="0" y="3.44" font-size="9.6" text-anchor="end" fill="#111" textLength="48.8" lengthAdjust="spacingAndGlyphs">KIF4A-OE</text>
<line x1="34" y1="473.3" x2="223.1" y2="473.3" stroke="#555" stroke-width="1.5"/>
<line x1="49" y1="532.2" x2="86.9" y2="532.2" stroke="#222" stroke-width="1.2"/>
<text x="68.8" y="545.8" font-size="12" text-anchor="middle" fill="#222" textLength="34.2" lengthAdjust="spacingAndGlyphs">LNCaPi</text>
<line x1="110.3" y1="532.2" x2="148.2" y2="532.2" stroke="#222" stroke-width="1.2"/>
<text x="130.7" y="545.8" font-size="12" text-anchor="middle" fill="#222" textLength="37.4" lengthAdjust="spacingAndGlyphs">RWPE1i</text>
<line x1="168.7" y1="532.2" x2="207.5" y2="532.2" stroke="#222" stroke-width="1.2"/>
<text x="187.7" y="545.8" font-size="12" text-anchor="middle" fill="#222" textLength="26.9" lengthAdjust="spacingAndGlyphs">PNT2i</text>
<text x="50.5" y="331.88" font-size="10" fill="#222" textLength="34.9" lengthAdjust="spacingAndGlyphs">p = 0.0066</text>
<text x="109.8" y="355.38" font-size="10" fill="#222" textLength="34.9" lengthAdjust="spacingAndGlyphs">p = 0.0230</text>
<text x="169.9" y="355.38" font-size="10" fill="#222" textLength="35.1" lengthAdjust="spacingAndGlyphs">p = 0.0002</text>
<text x="219.6" y="322.9" font-size="19.13" font-weight="bold" textLength="10.4" lengthAdjust="spacingAndGlyphs">E</text>
<line x1="271.3" y1="329.5" x2="271.3" y2="473.5" stroke="#555" stroke-width="1.4"/>
<line x1="268.6" y1="473.1" x2="271.3" y2="473.1" stroke="#555" stroke-width="1.2"/>
<text x="268.8" y="476.86" font-size="10.5" text-anchor="end" font-weight="bold" fill="#222" textLength="4.9" lengthAdjust="spacingAndGlyphs">0</text>
<line x1="268.6" y1="444.5" x2="271.3" y2="444.5" stroke="#555" stroke-width="1.2"/>
<text x="268.8" y="448.26" font-size="10.5" text-anchor="end" font-weight="bold" fill="#222" textLength="4.9" lengthAdjust="spacingAndGlyphs">5</text>
<line x1="268.6" y1="415.9" x2="271.3" y2="415.9" stroke="#555" stroke-width="1.2"/>
<text x="268.8" y="419.66" font-size="10.5" text-anchor="end" font-weight="bold" fill="#222" textLength="9.7" lengthAdjust="spacingAndGlyphs">10</text>
<line x1="268.6" y1="387.3" x2="271.3" y2="387.3" stroke="#555" stroke-width="1.2"/>
<text x="268.8" y="391.06" font-size="10.5" text-anchor="end" font-weight="bold" fill="#222" textLength="9.7" lengthAdjust="spacingAndGlyphs">15</text>
<line x1="268.6" y1="358.7" x2="271.3" y2="358.7" stroke="#555" stroke-width="1.2"/>
<text x="268.8" y="362.46" font-size="10.5" text-anchor="end" font-weight="bold" fill="#222" textLength="9.7" lengthAdjust="spacingAndGlyphs">20</text>
<line x1="268.6" y1="330.1" x2="271.3" y2="330.1" stroke="#555" stroke-width="1.2"/>
<text x="268.8" y="333.86" font-size="10.5" text-anchor="end" font-weight="bold" fill="#222" textLength="9.7" lengthAdjust="spacingAndGlyphs">25</text>
<text transform="translate(235.4 401.6) rotate(-90)" x="0" y="3.94" font-size="11" text-anchor="middle" fill="#222" textLength="102.2" lengthAdjust="spacingAndGlyphs">Number of colonies</text>
<text transform="translate(246.8 401) rotate(-90)" x="0" y="3.94" font-size="11" text-anchor="middle" fill="#222" textLength="133.3" lengthAdjust="spacingAndGlyphs">(Anchorage-independent)</text>
<line x1="271" y1="473" x2="443.9" y2="473" stroke="#555" stroke-width="1.6"/>
<path d="M286.2,473.5V437.9H310.5V473.5" fill="#fff" stroke="#000" stroke-width="3" stroke-linejoin="miter"/>
<line x1="298.35" y1="429.9" x2="298.35" y2="443.9" stroke="#000" stroke-width="1.6"/>
<line x1="290.85" y1="429.9" x2="305.85" y2="429.9" stroke="#000" stroke-width="1.6"/>
<line x1="290.85" y1="443.9" x2="305.85" y2="443.9" stroke="#000" stroke-width="1.6"/>
<ellipse cx="293.7" cy="427.2" rx="2.5" ry="3" fill="#000"/>
<ellipse cx="302.8" cy="433.1" rx="2.5" ry="3" fill="#000"/>
<ellipse cx="298.2" cy="450.5" rx="2.5" ry="3" fill="#000"/>
<line x1="298.35" y1="473" x2="298.35" y2="477" stroke="#555" stroke-width="1.2"/>
<text transform="translate(298.65 478.4) rotate(-90)" x="0" y="3.51" font-size="9.8" text-anchor="end" font-weight="bold" fill="#111" textLength="35" lengthAdjust="spacingAndGlyphs">NC-OE</text>
<path d="M325.9,473.5V383.1H350.2V473.5" fill="#fff" stroke="#4f9a22" stroke-width="3" stroke-linejoin="miter"/>
<line x1="338.05" y1="366.8" x2="338.05" y2="396.1" stroke="#4f9a22" stroke-width="1.6"/>
<line x1="330.55" y1="366.8" x2="345.55" y2="366.8" stroke="#4f9a22" stroke-width="1.6"/>
<line x1="330.55" y1="396.1" x2="345.55" y2="396.1" stroke="#4f9a22" stroke-width="1.6"/>
<ellipse cx="338.1" cy="352.9" rx="2.5" ry="3" fill="#000"/>
<ellipse cx="342.9" cy="393" rx="2.5" ry="3" fill="#000"/>
<ellipse cx="333.3" cy="398.4" rx="2.5" ry="3" fill="#000"/>
<line x1="338.05" y1="473" x2="338.05" y2="477" stroke="#555" stroke-width="1.2"/>
<text transform="translate(338.35 478.4) rotate(-90)" x="0" y="3.51" font-size="9.8" text-anchor="end" font-weight="bold" fill="#111" textLength="51.5" lengthAdjust="spacingAndGlyphs">KIF4A-OE</text>
<path d="M366,473.5V448.1H390.3V473.5" fill="#fff" stroke="#000" stroke-width="3" stroke-linejoin="miter"/>
<line x1="378.15" y1="442.3" x2="378.15" y2="450" stroke="#000" stroke-width="1.6"/>
<line x1="370.65" y1="442.3" x2="385.65" y2="442.3" stroke="#000" stroke-width="1.6"/>
<line x1="370.65" y1="450" x2="385.65" y2="450" stroke="#000" stroke-width="1.6"/>
<ellipse cx="377.9" cy="438.5" rx="2.5" ry="3" fill="#000"/>
<ellipse cx="373.1" cy="451" rx="2.5" ry="3" fill="#000"/>
<ellipse cx="382.3" cy="451" rx="2.5" ry="3" fill="#000"/>
<line x1="378.15" y1="473" x2="378.15" y2="477" stroke="#555" stroke-width="1.2"/>
<text transform="translate(378.45 478.4) rotate(-90)" x="0" y="3.51" font-size="9.8" text-anchor="end" font-weight="bold" fill="#111" textLength="35" lengthAdjust="spacingAndGlyphs">NC-OE</text>
<path d="M405.9,473.5V406.2H430.2V473.5" fill="#fff" stroke="#1f5fa5" stroke-width="3" stroke-linejoin="miter"/>
<line x1="418.05" y1="395.9" x2="418.05" y2="413.3" stroke="#1f5fa5" stroke-width="1.6"/>
<line x1="410.55" y1="395.9" x2="425.55" y2="395.9" stroke="#1f5fa5" stroke-width="1.6"/>
<line x1="410.55" y1="413.3" x2="425.55" y2="413.3" stroke="#1f5fa5" stroke-width="1.6"/>
<ellipse cx="417.4" cy="387.3" rx="2.5" ry="3" fill="#000"/>
<ellipse cx="422.2" cy="409.8" rx="2.5" ry="3" fill="#000"/>
<ellipse cx="412.8" cy="415.6" rx="2.5" ry="3" fill="#000"/>
<line x1="418.05" y1="473" x2="418.05" y2="477" stroke="#555" stroke-width="1.2"/>
<text transform="translate(418.35 478.4) rotate(-90)" x="0" y="3.51" font-size="9.8" text-anchor="end" font-weight="bold" fill="#111" textLength="51.5" lengthAdjust="spacingAndGlyphs">KIF4A-OE</text>
<line x1="271" y1="473" x2="443.9" y2="473" stroke="#555" stroke-width="1.6"/>
<line x1="292" y1="537.8" x2="340.1" y2="537.8" stroke="#222" stroke-width="1.2"/>
<text x="315.7" y="550.18" font-size="12.5" text-anchor="middle" fill="#222" textLength="31.5" lengthAdjust="spacingAndGlyphs">LNCaPi</text>
<line x1="376.9" y1="537.8" x2="424.2" y2="537.8" stroke="#222" stroke-width="1.2"/>
<text x="401.4" y="550.18" font-size="12.5" text-anchor="middle" fill="#222" textLength="25.7" lengthAdjust="spacingAndGlyphs">PNT2i</text>
<text x="319.6" y="342.01" font-size="9.8" fill="#222" textLength="31.5" lengthAdjust="spacingAndGlyphs">p = 0.0257</text>
<text x="395" y="372.81" font-size="9.8" fill="#222" textLength="31" lengthAdjust="spacingAndGlyphs">p = 0.0117</text>
<text x="456.8" y="322.9" font-size="19.13" font-weight="bold" textLength="9.3" lengthAdjust="spacingAndGlyphs">F</text>
<text x="518.3" y="335.56" font-size="10.5" fill="#222" textLength="46" lengthAdjust="spacingAndGlyphs">Knockdown</text>
<text x="610.1" y="335.56" font-size="10.5" fill="#222" textLength="62.4" lengthAdjust="spacingAndGlyphs">Overexpression</text>
<line x1="486.5" y1="344.7" x2="591.8" y2="344.7" stroke="#000" stroke-width="2"/>
<line x1="602.6" y1="344.7" x2="665" y2="344.7" stroke="#000" stroke-width="2"/>
<line x1="599.7" y1="354.2" x2="599.7" y2="490" stroke="#000" stroke-width="1.7" stroke-dasharray="1.8 1.84"/>
<line x1="481.4" y1="356.5" x2="481.4" y2="490.5" stroke="#000" stroke-width="1.8"/>
<line x1="476.6" y1="489.6" x2="481.4" y2="489.6" stroke="#000" stroke-width="1.6"/>
<text x="475.8" y="492.75" font-size="8.8" text-anchor="end" font-weight="bold" fill="#111" textLength="4.8" lengthAdjust="spacingAndGlyphs">0</text>
<line x1="476.6" y1="456.5" x2="481.4" y2="456.5" stroke="#000" stroke-width="1.6"/>
<text x="475.8" y="459.65" font-size="8.8" text-anchor="end" font-weight="bold" fill="#111" textLength="14.2" lengthAdjust="spacingAndGlyphs">100</text>
<line x1="476.6" y1="423.4" x2="481.4" y2="423.4" stroke="#000" stroke-width="1.6"/>
<text x="475.8" y="426.55" font-size="8.8" text-anchor="end" font-weight="bold" fill="#111" textLength="14.2" lengthAdjust="spacingAndGlyphs">200</text>
<line x1="476.6" y1="390.3" x2="481.4" y2="390.3" stroke="#000" stroke-width="1.6"/>
<text x="475.8" y="393.45" font-size="8.8" text-anchor="end" font-weight="bold" fill="#111" textLength="14.2" lengthAdjust="spacingAndGlyphs">300</text>
<line x1="476.6" y1="357.2" x2="481.4" y2="357.2" stroke="#000" stroke-width="1.6"/>
<text x="475.8" y="360.35" font-size="8.8" text-anchor="end" font-weight="bold" fill="#111" textLength="14.2" lengthAdjust="spacingAndGlyphs">400</text>
<text transform="translate(452.5 423) rotate(-90)" x="0" y="3.58" font-size="10" text-anchor="middle" fill="#222" textLength="132.7" lengthAdjust="spacingAndGlyphs">Number of cells migrated/invaded</text>
<line x1="480.5" y1="489.6" x2="679.7" y2="489.6" stroke="#000" stroke-width="2"/>
<path d="M488.45,490V420.75H499.15V490" fill="#fff" stroke="#000" stroke-width="2.7" stroke-linejoin="miter"/>
<line x1="493.8" y1="415.5" x2="493.8" y2="422.7" stroke="#000" stroke-width="1.4"/>
<line x1="489.3" y1="415.5" x2="498.3" y2="415.5" stroke="#000" stroke-width="1.4"/>
<line x1="489.3" y1="422.7" x2="498.3" y2="422.7" stroke="#000" stroke-width="1.4"/>
<ellipse cx="489.7" cy="413.4" rx="2.4" ry="2.9" fill="#000"/>
<ellipse cx="497.7" cy="417.9" rx="2.4" ry="2.9" fill="#000"/>
<ellipse cx="493.7" cy="428.1" rx="2.4" ry="2.9" fill="#000"/>
<line x1="493.8" y1="490" x2="493.8" y2="494" stroke="#000" stroke-width="1.5"/>
<text transform="translate(494.3 494.6) rotate(-90)" x="0" y="3.22" font-size="9" text-anchor="end" font-weight="bold" fill="#111" textLength="24.4" lengthAdjust="spacingAndGlyphs">sgNC</text>
<path d="M507.64,490V467.65H518.34V490" fill="#fff" stroke="#4f9a22" stroke-width="2.7" stroke-linejoin="miter"/>
<line x1="512.99" y1="463.3" x2="512.99" y2="471.1" stroke="#000" stroke-width="1.4"/>
<line x1="508.49" y1="463.3" x2="517.49" y2="463.3" stroke="#000" stroke-width="1.4"/>
<line x1="508.49" y1="471.1" x2="517.49" y2="471.1" stroke="#000" stroke-width="1.4"/>
<ellipse cx="508.5" cy="461" rx="2.4" ry="2.9" fill="#000"/>
<ellipse cx="517.2" cy="463.9" rx="2.4" ry="2.9" fill="#000"/>
<ellipse cx="512.8" cy="475.5" rx="2.4" ry="2.9" fill="#000"/>
<line x1="512.99" y1="490" x2="512.99" y2="494" stroke="#000" stroke-width="1.5"/>
<text transform="translate(513.49 494.6) rotate(-90)" x="0" y="3.22" font-size="9" text-anchor="end" font-weight="bold" fill="#111" textLength="37.6" lengthAdjust="spacingAndGlyphs">sgKIF4A</text>
<path d="M526.83,490V401.85H537.53V490" fill="#fff" stroke="#000" stroke-width="2.7" stroke-linejoin="miter"/>
<line x1="532.18" y1="397.5" x2="532.18" y2="404" stroke="#000" stroke-width="1.4"/>
<line x1="527.68" y1="397.5" x2="536.68" y2="397.5" stroke="#000" stroke-width="1.4"/>
<line x1="527.68" y1="404" x2="536.68" y2="404" stroke="#000" stroke-width="1.4"/>
<ellipse cx="531.9" cy="394.8" rx="2.4" ry="2.9" fill="#000"/>
<ellipse cx="531.9" cy="406.6" rx="2.4" ry="2.9" fill="#000"/>
<ellipse cx="533" cy="400" rx="2.4" ry="2.9" fill="#000"/>
<line x1="532.18" y1="490" x2="532.18" y2="494" stroke="#000" stroke-width="1.5"/>
<text transform="translate(532.68 494.6) rotate(-90)" x="0" y="3.22" font-size="9" text-anchor="end" font-weight="bold" fill="#111" textLength="24.4" lengthAdjust="spacingAndGlyphs">sgNC</text>
<path d="M546.02,490V459.65H556.72V490" fill="#fff" stroke="#4f9a22" stroke-width="2.7" stroke-linejoin="miter"/>
<line x1="551.37" y1="455" x2="551.37" y2="461" stroke="#000" stroke-width="1.4"/>
<line x1="546.87" y1="455" x2="555.87" y2="455" stroke="#000" stroke-width="1.4"/>
<line x1="546.87" y1="461" x2="555.87" y2="461" stroke="#000" stroke-width="1.4"/>
<ellipse cx="551.6" cy="453.1" rx="2.4" ry="2.9" fill="#000"/>
<ellipse cx="547.1" cy="461" rx="2.4" ry="2.9" fill="#000"/>
<ellipse cx="555.7" cy="461" rx="2.4" ry="2.9" fill="#000"/>
<line x1="551.37" y1="490" x2="551.37" y2="494" stroke="#000" stroke-width="1.5"/>
<text transform="translate(551.87 494.6) rotate(-90)" x="0" y="3.22" font-size="9" text-anchor="end" font-weight="bold" fill="#111" textLength="37.6" lengthAdjust="spacingAndGlyphs">sgKIF4A</text>
<path d="M565.21,490V407.25H575.91V490" fill="#fff" stroke="#000" stroke-width="2.7" stroke-linejoin="miter"/>
<line x1="570.56" y1="398.7" x2="570.56" y2="413.4" stroke="#000" stroke-width="1.4"/>
<line x1="566.06" y1="398.7" x2="575.06" y2="398.7" stroke="#000" stroke-width="1.4"/>
<line x1="566.06" y1="413.4" x2="575.06" y2="413.4" stroke="#000" stroke-width="1.4"/>
<ellipse cx="570.2" cy="394.6" rx="2.4" ry="2.9" fill="#000"/>
<ellipse cx="570.2" cy="403.2" rx="2.4" ry="2.9" fill="#000"/>
<ellipse cx="570.2" cy="420.2" rx="2.4" ry="2.9" fill="#000"/>
<line x1="570.56" y1="490" x2="570.56" y2="494" stroke="#000" stroke-width="1.5"/>
<text transform="translate(571.06 494.6) rotate(-90)" x="0" y="3.22" font-size="9" text-anchor="end" font-weight="bold" fill="#111" textLength="24.4" lengthAdjust="spacingAndGlyphs">sgNC</text>
<path d="M584.4,490V465.15H595.1V490" fill="#fff" stroke="#9b1c14" stroke-width="2.7" stroke-linejoin="miter"/>
<line x1="589.75" y1="462" x2="589.75" y2="465" stroke="#000" stroke-width="1.4"/>
<line x1="585.25" y1="462" x2="594.25" y2="462" stroke="#000" stroke-width="1.4"/>
<line x1="585.25" y1="465" x2="594.25" y2="465" stroke="#000" stroke-width="1.4"/>
<ellipse cx="585.6" cy="464.9" rx="2.4" ry="2.9" fill="#000"/>
<ellipse cx="590.2" cy="462.7" rx="2.4" ry="2.9" fill="#000"/>
<ellipse cx="594.2" cy="463.3" rx="2.4" ry="2.9" fill="#000"/>
<line x1="589.75" y1="490" x2="589.75" y2="494" stroke="#000" stroke-width="1.5"/>
<text transform="translate(590.25 494.6) rotate(-90)" x="0" y="3.22" font-size="9" text-anchor="end" font-weight="bold" fill="#111" textLength="37.6" lengthAdjust="spacingAndGlyphs">sgKIF4A</text>
<path d="M603.59,490V426.15H614.29V490" fill="#fff" stroke="#000" stroke-width="2.7" stroke-linejoin="miter"/>
<line x1="608.94" y1="421" x2="608.94" y2="428" stroke="#000" stroke-width="1.4"/>
<line x1="604.44" y1="421" x2="613.44" y2="421" stroke="#000" stroke-width="1.4"/>
<line x1="604.44" y1="428" x2="613.44" y2="428" stroke="#000" stroke-width="1.4"/>
<ellipse cx="608.8" cy="418.4" rx="2.4" ry="2.9" fill="#000"/>
<ellipse cx="608.8" cy="424" rx="2.4" ry="2.9" fill="#000"/>
<ellipse cx="608.8" cy="431.1" rx="2.4" ry="2.9" fill="#000"/>
<line x1="608.94" y1="490" x2="608.94" y2="494" stroke="#000" stroke-width="1.5"/>
<text transform="translate(609.44 494.6) rotate(-90)" x="0" y="3.22" font-size="9" text-anchor="end" font-weight="bold" fill="#111" textLength="29.8" lengthAdjust="spacingAndGlyphs">NC-OE</text>
<path d="M622.78,490V404.15H633.48V490" fill="#fff" stroke="#4f9a22" stroke-width="2.7" stroke-linejoin="miter"/>
<line x1="628.13" y1="398.7" x2="628.13" y2="407" stroke="#000" stroke-width="1.4"/>
<line x1="623.63" y1="398.7" x2="632.63" y2="398.7" stroke="#000" stroke-width="1.4"/>
<line x1="623.63" y1="407" x2="632.63" y2="407" stroke="#000" stroke-width="1.4"/>
<ellipse cx="628" cy="394.6" rx="2.4" ry="2.9" fill="#000"/>
<ellipse cx="628" cy="406.6" rx="2.4" ry="2.9" fill="#000"/>
<ellipse cx="628" cy="410" rx="2.4" ry="2.9" fill="#000"/>
<line x1="628.13" y1="490" x2="628.13" y2="494" stroke="#000" stroke-width="1.5"/>
<text transform="translate(628.63 494.6) rotate(-90)" x="0" y="3.22" font-size="9" text-anchor="end" font-weight="bold" fill="#111" textLength="26.7" lengthAdjust="spacingAndGlyphs">KIF4A</text>
<path d="M641.97,490V403.45H652.67V490" fill="#fff" stroke="#000" stroke-width="2.7" stroke-linejoin="miter"/>
<line x1="647.32" y1="400" x2="647.32" y2="404" stroke="#000" stroke-width="1.4"/>
<line x1="642.82" y1="400" x2="651.82" y2="400" stroke="#000" stroke-width="1.4"/>
<line x1="642.82" y1="404" x2="651.82" y2="404" stroke="#000" stroke-width="1.4"/>
<ellipse cx="646.9" cy="398.2" rx="2.4" ry="2.9" fill="#000"/>
<ellipse cx="644.5" cy="403" rx="2.4" ry="2.9" fill="#000"/>
<ellipse cx="649.5" cy="403" rx="2.4" ry="2.9" fill="#000"/>
<line x1="647.32" y1="490" x2="647.32" y2="494" stroke="#000" stroke-width="1.5"/>
<text transform="translate(647.82 494.6) rotate(-90)" x="0" y="3.22" font-size="9" text-anchor="end" font-weight="bold" fill="#111" textLength="29.8" lengthAdjust="spacingAndGlyphs">NC-OE</text>
<path d="M661.16,490V379.65H671.86V490" fill="#fff" stroke="#9b1c14" stroke-width="2.7" stroke-linejoin="miter"/>
<line x1="666.51" y1="373" x2="666.51" y2="384" stroke="#000" stroke-width="1.4"/>
<line x1="662.01" y1="373" x2="671.01" y2="373" stroke="#000" stroke-width="1.4"/>
<line x1="662.01" y1="384" x2="671.01" y2="384" stroke="#000" stroke-width="1.4"/>
<ellipse cx="666.2" cy="367.6" rx="2.4" ry="2.9" fill="#000"/>
<ellipse cx="666.2" cy="379.4" rx="2.4" ry="2.9" fill="#000"/>
<ellipse cx="666.2" cy="386.9" rx="2.4" ry="2.9" fill="#000"/>
<line x1="666.51" y1="490" x2="666.51" y2="494" stroke="#000" stroke-width="1.5"/>
<text transform="translate(667.01 494.6) rotate(-90)" x="0" y="3.22" font-size="9" text-anchor="end" font-weight="bold" fill="#111" textLength="26.7" lengthAdjust="spacingAndGlyphs">KIF4A</text>
<line x1="480.5" y1="489.6" x2="679.7" y2="489.6" stroke="#000" stroke-width="2"/>
<line x1="486.3" y1="538.1" x2="519.6" y2="538.1" stroke="#000" stroke-width="2"/>
<text x="502.3" y="550.26" font-size="10.5" text-anchor="middle" fill="#222" textLength="32.3" lengthAdjust="spacingAndGlyphs">LNCaPi</text>
<line x1="525.9" y1="538.1" x2="558.5" y2="538.1" stroke="#000" stroke-width="2"/>
<text x="542.2" y="550.26" font-size="10.5" text-anchor="middle" fill="#222" textLength="23.5" lengthAdjust="spacingAndGlyphs">C42Bi</text>
<line x1="563.5" y1="538.1" x2="596.2" y2="538.1" stroke="#000" stroke-width="2"/>
<text x="579.9" y="550.26" font-size="10.5" text-anchor="middle" fill="#222" textLength="19.5" lengthAdjust="spacingAndGlyphs">PC3i</text>
<line x1="602.5" y1="538.1" x2="635.7" y2="538.1" stroke="#000" stroke-width="2"/>
<text x="619.1" y="550.26" font-size="10.5" text-anchor="middle" fill="#222" textLength="30.8" lengthAdjust="spacingAndGlyphs">LNCaPi</text>
<line x1="642" y1="538.1" x2="674.6" y2="538.1" stroke="#000" stroke-width="2"/>
<text x="658.3" y="550.26" font-size="10.5" text-anchor="middle" fill="#222" textLength="18.8" lengthAdjust="spacingAndGlyphs">PC3i</text>
<text transform="translate(512.1 432.15) rotate(-90)" x="0" y="3.29" font-size="9.2" text-anchor="middle" fill="#222" textLength="30.7" lengthAdjust="spacingAndGlyphs">p = 0.0016</text>
<text transform="translate(551.2 432.15) rotate(-90)" x="0" y="3.29" font-size="9.2" text-anchor="middle" fill="#222" textLength="30.7" lengthAdjust="spacingAndGlyphs">p = 0.0002</text>
<text transform="translate(590.2 436.7) rotate(-90)" x="0" y="3.29" font-size="9.2" text-anchor="middle" fill="#222" textLength="30.6" lengthAdjust="spacingAndGlyphs">p = 0.0016</text>
<text x="600.8" y="383.51" font-size="8.4" fill="#222" textLength="30.9" lengthAdjust="spacingAndGlyphs">p = 0.0161</text>
<text x="638.5" y="362.41" font-size="8.4" fill="#222" textLength="30.4" lengthAdjust="spacingAndGlyphs">p = 0.0151</text>
<text x="0" y="599.7" font-size="18.3" font-weight="bold" textLength="10.3" lengthAdjust="spacingAndGlyphs">G</text>
<line x1="42.5" y1="631" x2="42.5" y2="773" stroke="#444" stroke-width="1.5"/>
<line x1="39.5" y1="772.3" x2="42.5" y2="772.3" stroke="#444" stroke-width="1.3"/>
<text x="39" y="775.99" font-size="10.3" text-anchor="end" fill="#222" textLength="4.8" lengthAdjust="spacingAndGlyphs">0</text>
<line x1="39.5" y1="725.4" x2="42.5" y2="725.4" stroke="#444" stroke-width="1.3"/>
<text x="39" y="729.09" font-size="10.3" text-anchor="end" fill="#222" textLength="11" lengthAdjust="spacingAndGlyphs">500</text>
<line x1="39.5" y1="678.5" x2="42.5" y2="678.5" stroke="#444" stroke-width="1.3"/>
<text x="39" y="682.19" font-size="10.3" text-anchor="end" fill="#222" textLength="14.4" lengthAdjust="spacingAndGlyphs">1000</text>
<line x1="39.5" y1="631.6" x2="42.5" y2="631.6" stroke="#444" stroke-width="1.3"/>
<text x="39" y="635.29" font-size="10.3" text-anchor="end" fill="#222" textLength="14.4" lengthAdjust="spacingAndGlyphs">1500</text>
<text transform="translate(7.5 690.8) rotate(-90)" x="0" y="4.01" font-size="11.2" text-anchor="middle" fill="#222" textLength="77.7" lengthAdjust="spacingAndGlyphs">Average tumor</text>
<text transform="translate(19.1 692) rotate(-90)" x="0" y="4.01" font-size="11.2" text-anchor="middle" fill="#222" textLength="76.5" lengthAdjust="spacingAndGlyphs">volume (mm3)</text>
<line x1="42" y1="772.4" x2="181.6" y2="772.4" stroke="#444" stroke-width="1.5"/>
<line x1="73.6" y1="772.4" x2="73.6" y2="776.6" stroke="#444" stroke-width="1.3"/>
<text x="73.6" y="788.19" font-size="10.3" text-anchor="middle" fill="#222" textLength="8.3" lengthAdjust="spacingAndGlyphs">21</text>
<line x1="109.2" y1="772.4" x2="109.2" y2="776.6" stroke="#444" stroke-width="1.3"/>
<text x="109.2" y="788.19" font-size="10.3" text-anchor="middle" fill="#222" textLength="8.3" lengthAdjust="spacingAndGlyphs">28</text>
<line x1="145.1" y1="772.4" x2="145.1" y2="776.6" stroke="#444" stroke-width="1.3"/>
<text x="145.1" y="788.19" font-size="10.3" text-anchor="middle" fill="#222" textLength="8.3" lengthAdjust="spacingAndGlyphs">35</text>
<line x1="181" y1="772.4" x2="181" y2="776.6" stroke="#444" stroke-width="1.3"/>
<text x="181" y="788.19" font-size="10.3" text-anchor="middle" fill="#222" textLength="8.3" lengthAdjust="spacingAndGlyphs">42</text>
<text x="54.4" y="805.18" font-size="10" fill="#222" textLength="83.9" lengthAdjust="spacingAndGlyphs">Time (in days post-injection)</text>
<text x="151.9" y="648.13" font-size="13.2" fill="#222" textLength="45.8" lengthAdjust="spacingAndGlyphs">p = 0.011</text>
<line x1="44.7" y1="633.8" x2="55.6" y2="633.8" stroke="#000" stroke-width="1.8"/>
<ellipse cx="49.9" cy="633.8" rx="1.6" ry="1.6" fill="#000"/>
<text x="60.8" y="637.38" font-size="10" fill="#222" textLength="54.9" lengthAdjust="spacingAndGlyphs">sgNC (Dox)  (n=9)</text>
<line x1="44.7" y1="653.7" x2="55.6" y2="653.7" stroke="#9a1d17" stroke-width="1.8"/>
<ellipse cx="49.9" cy="653.7" rx="1.6" ry="1.6" fill="#9a1d17"/>
<text x="60.8" y="657.28" font-size="10" fill="#222" textLength="65" lengthAdjust="spacingAndGlyphs">sgKIF4A (Dox)  (n=8)</text>
<line x1="44.7" y1="673.3" x2="55.6" y2="673.3" stroke="#9a9a9a" stroke-width="1.8"/>
<ellipse cx="49.9" cy="673.3" rx="1.6" ry="1.6" fill="#9a9a9a"/>
<text x="60.8" y="676.88" font-size="10" fill="#222" textLength="67.3" lengthAdjust="spacingAndGlyphs">sgNC (No-Dox)  (n=9)</text>
<line x1="44.7" y1="693.1" x2="55.6" y2="693.1" stroke="#2c3e9a" stroke-width="1.8"/>
<ellipse cx="49.9" cy="693.1" rx="1.6" ry="1.6" fill="#2c3e9a"/>
<text x="60.8" y="696.68" font-size="10" fill="#222" textLength="79.8" lengthAdjust="spacingAndGlyphs">sgKIF4A (No-Dox)  (n=10)</text>
<text x="49.9" y="723.38" font-size="10" fill="#222" textLength="54.9" lengthAdjust="spacingAndGlyphs">Doxycycline start</text>
<path d="M69.2,729.5 L73.1,735.5 L77.2,729.5 L73.1,746.6 Z" fill="#000"/>
<path d="M73.6,765.2 L109.2,756.1 L145.1,742.5 L181,676" stroke="#2c3e9a" stroke-width="1.1" fill="none"/>
<line x1="73.6" y1="763" x2="73.6" y2="767" stroke="#2c3e9a" stroke-width="1.3"/>
<line x1="71.6" y1="763" x2="75.6" y2="763" stroke="#2c3e9a" stroke-width="1.3"/>
<line x1="71.6" y1="767" x2="75.6" y2="767" stroke="#2c3e9a" stroke-width="1.3"/>
<ellipse cx="73.6" cy="765.2" rx="1.7" ry="1.7" fill="#2c3e9a"/>
<line x1="109.2" y1="753" x2="109.2" y2="759" stroke="#2c3e9a" stroke-width="1.3"/>
<line x1="107.2" y1="753" x2="111.2" y2="753" stroke="#2c3e9a" stroke-width="1.3"/>
<line x1="107.2" y1="759" x2="111.2" y2="759" stroke="#2c3e9a" stroke-width="1.3"/>
<ellipse cx="109.2" cy="756.1" rx="1.7" ry="1.7" fill="#2c3e9a"/>
<line x1="145.1" y1="740" x2="145.1" y2="745" stroke="#2c3e9a" stroke-width="1.3"/>
<line x1="143.1" y1="740" x2="147.1" y2="740" stroke="#2c3e9a" stroke-width="1.3"/>
<line x1="143.1" y1="745" x2="147.1" y2="745" stroke="#2c3e9a" stroke-width="1.3"/>
<ellipse cx="145.1" cy="742.5" rx="1.7" ry="1.7" fill="#2c3e9a"/>
<line x1="181" y1="666" x2="181" y2="688" stroke="#2c3e9a" stroke-width="1.3"/>
<line x1="179" y1="666" x2="183" y2="666" stroke="#2c3e9a" stroke-width="1.3"/>
<line x1="179" y1="688" x2="183" y2="688" stroke="#2c3e9a" stroke-width="1.3"/>
<ellipse cx="181" cy="676" rx="1.7" ry="1.7" fill="#2c3e9a"/>
<path d="M73.6,766.4 L109.2,757.3 L145.1,744.3 L181,673.3" stroke="#9a9a9a" stroke-width="2" fill="none"/>
<line x1="73.6" y1="764" x2="73.6" y2="769" stroke="#9a9a9a" stroke-width="1.3"/>
<line x1="71.6" y1="764" x2="75.6" y2="764" stroke="#9a9a9a" stroke-width="1.3"/>
<line x1="71.6" y1="769" x2="75.6" y2="769" stroke="#9a9a9a" stroke-width="1.3"/>
<ellipse cx="73.6" cy="766.4" rx="1.7" ry="1.7" fill="#9a9a9a"/>
<line x1="109.2" y1="750.5" x2="109.2" y2="761.8" stroke="#9a9a9a" stroke-width="1.3"/>
<line x1="107.2" y1="750.5" x2="111.2" y2="750.5" stroke="#9a9a9a" stroke-width="1.3"/>
<line x1="107.2" y1="761.8" x2="111.2" y2="761.8" stroke="#9a9a9a" stroke-width="1.3"/>
<ellipse cx="109.2" cy="757.3" rx="1.7" ry="1.7" fill="#9a9a9a"/>
<line x1="145.1" y1="736.9" x2="145.1" y2="751.6" stroke="#9a9a9a" stroke-width="1.3"/>
<line x1="143.1" y1="736.9" x2="147.1" y2="736.9" stroke="#9a9a9a" stroke-width="1.3"/>
<line x1="143.1" y1="751.6" x2="147.1" y2="751.6" stroke="#9a9a9a" stroke-width="1.3"/>
<ellipse cx="145.1" cy="744.3" rx="1.7" ry="1.7" fill="#9a9a9a"/>
<line x1="181" y1="663" x2="181" y2="685.8" stroke="#9a9a9a" stroke-width="1.3"/>
<line x1="179" y1="663" x2="183" y2="663" stroke="#9a9a9a" stroke-width="1.3"/>
<line x1="179" y1="685.8" x2="183" y2="685.8" stroke="#9a9a9a" stroke-width="1.3"/>
<ellipse cx="181" cy="673.3" rx="1.7" ry="1.7" fill="#9a9a9a"/>
<path d="M73.6,756.1 L109.2,742.5 L145.1,728.2 L181,684.7" stroke="#000" stroke-width="2" fill="none"/>
<line x1="73.6" y1="752.3" x2="73.6" y2="759.6" stroke="#000" stroke-width="1.3"/>
<line x1="71.6" y1="752.3" x2="75.6" y2="752.3" stroke="#000" stroke-width="1.3"/>
<line x1="71.6" y1="759.6" x2="75.6" y2="759.6" stroke="#000" stroke-width="1.3"/>
<ellipse cx="73.6" cy="756.1" rx="1.7" ry="1.7" fill="#000"/>
<line x1="109.2" y1="737.5" x2="109.2" y2="748.2" stroke="#000" stroke-width="1.3"/>
<line x1="107.2" y1="737.5" x2="111.2" y2="737.5" stroke="#000" stroke-width="1.3"/>
<line x1="107.2" y1="748.2" x2="111.2" y2="748.2" stroke="#000" stroke-width="1.3"/>
<ellipse cx="109.2" cy="742.5" rx="1.7" ry="1.7" fill="#000"/>
<line x1="145.1" y1="720.3" x2="145.1" y2="735.7" stroke="#000" stroke-width="1.3"/>
<line x1="143.1" y1="720.3" x2="147.1" y2="720.3" stroke="#000" stroke-width="1.3"/>
<line x1="143.1" y1="735.7" x2="147.1" y2="735.7" stroke="#000" stroke-width="1.3"/>
<ellipse cx="145.1" cy="728.2" rx="1.7" ry="1.7" fill="#000"/>
<line x1="181" y1="664.2" x2="181" y2="702.8" stroke="#000" stroke-width="1.3"/>
<line x1="179" y1="664.2" x2="183" y2="664.2" stroke="#000" stroke-width="1.3"/>
<line x1="179" y1="702.8" x2="183" y2="702.8" stroke="#000" stroke-width="1.3"/>
<ellipse cx="181" cy="684.7" rx="1.7" ry="1.7" fill="#000"/>
<path d="M73.6,764.1 L109.2,760 L145.1,753.9 L181,750.5" stroke="#9a1d17" stroke-width="2" fill="none"/>
<line x1="73.6" y1="761.8" x2="73.6" y2="767.5" stroke="#9a1d17" stroke-width="1.3"/>
<line x1="71.6" y1="761.8" x2="75.6" y2="761.8" stroke="#9a1d17" stroke-width="1.3"/>
<line x1="71.6" y1="767.5" x2="75.6" y2="767.5" stroke="#9a1d17" stroke-width="1.3"/>
<ellipse cx="73.6" cy="764.1" rx="1.7" ry="1.7" fill="#9a1d17"/>
<line x1="109.2" y1="755" x2="109.2" y2="767" stroke="#9a1d17" stroke-width="1.3"/>
<line x1="107.2" y1="755" x2="111.2" y2="755" stroke="#9a1d17" stroke-width="1.3"/>
<line x1="107.2" y1="767" x2="111.2" y2="767" stroke="#9a1d17" stroke-width="1.3"/>
<ellipse cx="109.2" cy="760" rx="1.7" ry="1.7" fill="#9a1d17"/>
<line x1="145.1" y1="744.8" x2="145.1" y2="762.5" stroke="#9a1d17" stroke-width="1.3"/>
<line x1="143.1" y1="744.8" x2="147.1" y2="744.8" stroke="#9a1d17" stroke-width="1.3"/>
<line x1="143.1" y1="762.5" x2="147.1" y2="762.5" stroke="#9a1d17" stroke-width="1.3"/>
<ellipse cx="145.1" cy="753.9" rx="1.7" ry="1.7" fill="#9a1d17"/>
<line x1="181" y1="741.4" x2="181" y2="758.9" stroke="#9a1d17" stroke-width="1.3"/>
<line x1="179" y1="741.4" x2="183" y2="741.4" stroke="#9a1d17" stroke-width="1.3"/>
<line x1="179" y1="758.9" x2="183" y2="758.9" stroke="#9a1d17" stroke-width="1.3"/>
<ellipse cx="181" cy="750.5" rx="1.7" ry="1.7" fill="#9a1d17"/>
<text x="223.6" y="601" font-size="18.02" font-weight="bold" textLength="10.4" lengthAdjust="spacingAndGlyphs">H</text>
<line x1="265.2" y1="606" x2="265.2" y2="771" stroke="#000" stroke-width="2.2"/>
<line x1="258" y1="769.6" x2="265.2" y2="769.6" stroke="#000" stroke-width="1.8"/>
<text x="258.1" y="772.32" font-size="7.6" text-anchor="end" font-weight="bold" fill="#111" textLength="4.4" lengthAdjust="spacingAndGlyphs">0</text>
<line x1="258" y1="728.95" x2="265.2" y2="728.95" stroke="#000" stroke-width="1.8"/>
<text x="258.1" y="731.67" font-size="7.6" text-anchor="end" font-weight="bold" fill="#111" textLength="13.3" lengthAdjust="spacingAndGlyphs">100</text>
<line x1="258" y1="688.3" x2="265.2" y2="688.3" stroke="#000" stroke-width="1.8"/>
<text x="258.1" y="691.02" font-size="7.6" text-anchor="end" font-weight="bold" fill="#111" textLength="13.3" lengthAdjust="spacingAndGlyphs">200</text>
<line x1="258" y1="647.65" x2="265.2" y2="647.65" stroke="#000" stroke-width="1.8"/>
<text x="258.1" y="650.37" font-size="7.6" text-anchor="end" font-weight="bold" fill="#111" textLength="13.3" lengthAdjust="spacingAndGlyphs">300</text>
<line x1="258" y1="607" x2="265.2" y2="607" stroke="#000" stroke-width="1.8"/>
<text x="258.1" y="609.72" font-size="7.6" text-anchor="end" font-weight="bold" fill="#111" textLength="13.3" lengthAdjust="spacingAndGlyphs">400</text>
<text transform="translate(232 688.7) rotate(-90)" x="0" y="3.37" font-size="9.4" text-anchor="middle" fill="#333" textLength="68" lengthAdjust="spacingAndGlyphs">Number of colonies</text>
<line x1="271.9" y1="607" x2="465.4" y2="607" stroke="#000" stroke-width="2.8"/>
<line x1="479" y1="607" x2="666.9" y2="607" stroke="#000" stroke-width="2.8"/>
<text x="318.9" y="603.68" font-size="8.6" fill="#111" textLength="58.9" lengthAdjust="spacingAndGlyphs">10 - day assay</text>
<text x="535.7" y="603.68" font-size="8.6" fill="#111" textLength="60.1" lengthAdjust="spacingAndGlyphs">21 - day assay</text>
<line x1="474.2" y1="601.3" x2="474.2" y2="770" stroke="#000" stroke-width="1.6" stroke-dasharray="1.7 1.94"/>
<line x1="264.5" y1="769.8" x2="685" y2="769.8" stroke="#000" stroke-width="2.2"/>
<path d="M270.4,770V698.3H277.4V770" fill="#fff" stroke="#000" stroke-width="2.6" stroke-linejoin="miter"/>
<ellipse cx="272.2" cy="698.1" rx="2.1" ry="2.5" fill="#000"/>
<ellipse cx="276.8" cy="698.8" rx="2.1" ry="2.5" fill="#000"/>
<ellipse cx="274.5" cy="697.5" rx="2.1" ry="2.5" fill="#000"/>
<line x1="273.9" y1="770" x2="273.9" y2="774.6" stroke="#000" stroke-width="1.6"/>
<text transform="translate(274.2 775.4) rotate(-90)" x="0" y="3.01" font-size="8.4" text-anchor="end" font-weight="bold" fill="#111" textLength="19.3" lengthAdjust="spacingAndGlyphs">sgNC</text>
<path d="M284.24,770V702.7H291.24V770" fill="#fff" stroke="#9a1d17" stroke-width="2.6" stroke-linejoin="miter"/>
<ellipse cx="285.4" cy="702.3" rx="2.1" ry="2.5" fill="#000"/>
<ellipse cx="288.7" cy="700.1" rx="2.1" ry="2.5" fill="#000"/>
<ellipse cx="291.3" cy="701.4" rx="2.1" ry="2.5" fill="#000"/>
<line x1="287.74" y1="770" x2="287.74" y2="774.6" stroke="#000" stroke-width="1.6"/>
<text transform="translate(288.04 775.4) rotate(-90)" x="0" y="3.01" font-size="8.4" text-anchor="end" font-weight="bold" fill="#111" textLength="37" lengthAdjust="spacingAndGlyphs">sgKIF4A-1</text>
<path d="M298.08,770V691.9H305.08V770" fill="#fff" stroke="#9a1d17" stroke-width="2.6" stroke-linejoin="miter"/>
<line x1="301.58" y1="685" x2="301.58" y2="694.8" stroke="#000" stroke-width="1.2"/>
<line x1="298.83" y1="685" x2="304.33" y2="685" stroke="#000" stroke-width="1.2"/>
<line x1="298.83" y1="694.8" x2="304.33" y2="694.8" stroke="#000" stroke-width="1.2"/>
<ellipse cx="301.8" cy="679.1" rx="2.1" ry="2.5" fill="#000"/>
<ellipse cx="299.8" cy="696.5" rx="2.1" ry="2.5" fill="#000"/>
<ellipse cx="303.8" cy="696.1" rx="2.1" ry="2.5" fill="#000"/>
<line x1="301.58" y1="770" x2="301.58" y2="774.6" stroke="#000" stroke-width="1.6"/>
<text transform="translate(301.88 775.4) rotate(-90)" x="0" y="3.01" font-size="8.4" text-anchor="end" font-weight="bold" fill="#111" textLength="37" lengthAdjust="spacingAndGlyphs">sgKIF4A-2</text>
<path d="M311.92,770V694.1H318.92V770" fill="#fff" stroke="#000" stroke-width="2.6" stroke-linejoin="miter"/>
<ellipse cx="315.6" cy="689.2" rx="2.1" ry="2.5" fill="#000"/>
<ellipse cx="314.3" cy="694.2" rx="2.1" ry="2.5" fill="#000"/>
<ellipse cx="318.2" cy="692.8" rx="2.1" ry="2.5" fill="#000"/>
<line x1="315.42" y1="770" x2="315.42" y2="774.6" stroke="#000" stroke-width="1.6"/>
<text transform="translate(315.72 775.4) rotate(-90)" x="0" y="3.01" font-size="8.4" text-anchor="end" font-weight="bold" fill="#111" textLength="19.3" lengthAdjust="spacingAndGlyphs">sgNC</text>
<path d="M325.76,770V700.5H332.76V770" fill="#fff" stroke="#2d3a8c" stroke-width="2.6" stroke-linejoin="miter"/>
<line x1="329.26" y1="693.5" x2="329.26" y2="705.3" stroke="#000" stroke-width="1.2"/>
<line x1="326.51" y1="693.5" x2="332.01" y2="693.5" stroke="#000" stroke-width="1.2"/>
<line x1="326.51" y1="705.3" x2="332.01" y2="705.3" stroke="#000" stroke-width="1.2"/>
<ellipse cx="329.4" cy="688.2" rx="2.1" ry="2.5" fill="#000"/>
<ellipse cx="329.4" cy="701.4" rx="2.1" ry="2.5" fill="#000"/>
<ellipse cx="329.4" cy="708.4" rx="2.1" ry="2.5" fill="#000"/>
<line x1="329.26" y1="770" x2="329.26" y2="774.6" stroke="#000" stroke-width="1.6"/>
<text transform="translate(329.56 775.4) rotate(-90)" x="0" y="3.01" font-size="8.4" text-anchor="end" font-weight="bold" fill="#111" textLength="37" lengthAdjust="spacingAndGlyphs">sgKIF4A-1</text>
<path d="M339.6,770V693.5H346.6V770" fill="#fff" stroke="#2d3a8c" stroke-width="2.6" stroke-linejoin="miter"/>
<ellipse cx="340.5" cy="692.8" rx="2.1" ry="2.5" fill="#000"/>
<ellipse cx="343.4" cy="690.9" rx="2.1" ry="2.5" fill="#000"/>
<ellipse cx="345.8" cy="692.8" rx="2.1" ry="2.5" fill="#000"/>
<line x1="343.1" y1="770" x2="343.1" y2="774.6" stroke="#000" stroke-width="1.6"/>
<text transform="translate(343.4 775.4) rotate(-90)" x="0" y="3.01" font-size="8.4" text-anchor="end" font-weight="bold" fill="#111" textLength="37" lengthAdjust="spacingAndGlyphs">sgKIF4A-2</text>
<path d="M353.44,770V694.1H360.44V770" fill="#fff" stroke="#000" stroke-width="2.6" stroke-linejoin="miter"/>
<line x1="356.94" y1="691.3" x2="356.94" y2="698.1" stroke="#000" stroke-width="1.2"/>
<line x1="354.19" y1="691.3" x2="359.69" y2="691.3" stroke="#000" stroke-width="1.2"/>
<line x1="354.19" y1="698.1" x2="359.69" y2="698.1" stroke="#000" stroke-width="1.2"/>
<ellipse cx="354.9" cy="687.9" rx="2.1" ry="2.5" fill="#000"/>
<ellipse cx="359.5" cy="689.6" rx="2.1" ry="2.5" fill="#000"/>
<ellipse cx="357.1" cy="702.7" rx="2.1" ry="2.5" fill="#000"/>
<line x1="356.94" y1="770" x2="356.94" y2="774.6" stroke="#000" stroke-width="1.6"/>
<text transform="translate(357.24 775.4) rotate(-90)" x="0" y="3.01" font-size="8.4" text-anchor="end" font-weight="bold" fill="#111" textLength="19.3" lengthAdjust="spacingAndGlyphs">sgNC</text>
<path d="M367.28,770V698.7H374.28V770" fill="#fff" stroke="#5e2aa5" stroke-width="2.6" stroke-linejoin="miter"/>
<ellipse cx="368.7" cy="698.8" rx="2.1" ry="2.5" fill="#000"/>
<ellipse cx="371.3" cy="696.8" rx="2.1" ry="2.5" fill="#000"/>
<ellipse cx="373.9" cy="698.1" rx="2.1" ry="2.5" fill="#000"/>
<line x1="370.78" y1="770" x2="370.78" y2="774.6" stroke="#000" stroke-width="1.6"/>
<text transform="translate(371.08 775.4) rotate(-90)" x="0" y="3.01" font-size="8.4" text-anchor="end" font-weight="bold" fill="#111" textLength="37" lengthAdjust="spacingAndGlyphs">sgKIF4A-1</text>
<path d="M381.12,770V708.6H388.12V770" fill="#fff" stroke="#5e2aa5" stroke-width="2.6" stroke-linejoin="miter"/>
<line x1="384.62" y1="701.4" x2="384.62" y2="713" stroke="#000" stroke-width="1.2"/>
<line x1="381.87" y1="701.4" x2="387.37" y2="701.4" stroke="#000" stroke-width="1.2"/>
<line x1="381.87" y1="713" x2="387.37" y2="713" stroke="#000" stroke-width="1.2"/>
<ellipse cx="384.4" cy="695.5" rx="2.1" ry="2.5" fill="#000"/>
<ellipse cx="384.4" cy="710.6" rx="2.1" ry="2.5" fill="#000"/>
<ellipse cx="384.4" cy="717.2" rx="2.1" ry="2.5" fill="#000"/>
<line x1="384.62" y1="770" x2="384.62" y2="774.6" stroke="#000" stroke-width="1.6"/>
<text transform="translate(384.92 775.4) rotate(-90)" x="0" y="3.01" font-size="8.4" text-anchor="end" font-weight="bold" fill="#111" textLength="37" lengthAdjust="spacingAndGlyphs">sgKIF4A-2</text>
<path d="M394.96,770V701.4H401.96V770" fill="#fff" stroke="#000" stroke-width="2.6" stroke-linejoin="miter"/>
<ellipse cx="396.9" cy="699.4" rx="2.1" ry="2.5" fill="#000"/>
<ellipse cx="398.9" cy="698.8" rx="2.1" ry="2.5" fill="#000"/>
<ellipse cx="401.5" cy="700.1" rx="2.1" ry="2.5" fill="#000"/>
<line x1="398.46" y1="770" x2="398.46" y2="774.6" stroke="#000" stroke-width="1.6"/>
<text transform="translate(398.76 775.4) rotate(-90)" x="0" y="3.01" font-size="8.4" text-anchor="end" font-weight="bold" fill="#111" textLength="19.3" lengthAdjust="spacingAndGlyphs">sgNC</text>
<path d="M408.8,770V702.7H415.8V770" fill="#fff" stroke="#5b93cf" stroke-width="2.6" stroke-linejoin="miter"/>
<line x1="412.3" y1="699" x2="412.3" y2="704" stroke="#000" stroke-width="1.2"/>
<line x1="409.55" y1="699" x2="415.05" y2="699" stroke="#000" stroke-width="1.2"/>
<line x1="409.55" y1="704" x2="415.05" y2="704" stroke="#000" stroke-width="1.2"/>
<ellipse cx="412" cy="697.4" rx="2.1" ry="2.5" fill="#000"/>
<ellipse cx="410" cy="704.7" rx="2.1" ry="2.5" fill="#000"/>
<ellipse cx="414.6" cy="702.7" rx="2.1" ry="2.5" fill="#000"/>
<line x1="412.3" y1="770" x2="412.3" y2="774.6" stroke="#000" stroke-width="1.6"/>
<text transform="translate(412.6 775.4) rotate(-90)" x="0" y="3.01" font-size="8.4" text-anchor="end" font-weight="bold" fill="#111" textLength="37" lengthAdjust="spacingAndGlyphs">sgKIF4A-1</text>
<path d="M422.64,770V703.6H429.64V770" fill="#fff" stroke="#5b93cf" stroke-width="2.6" stroke-linejoin="miter"/>
<ellipse cx="423.8" cy="700.1" rx="2.1" ry="2.5" fill="#000"/>
<ellipse cx="423.6" cy="705.3" rx="2.1" ry="2.5" fill="#000"/>
<ellipse cx="428.4" cy="702.7" rx="2.1" ry="2.5" fill="#000"/>
<line x1="426.14" y1="770" x2="426.14" y2="774.6" stroke="#000" stroke-width="1.6"/>
<text transform="translate(426.44 775.4) rotate(-90)" x="0" y="3.01" font-size="8.4" text-anchor="end" font-weight="bold" fill="#111" textLength="37" lengthAdjust="spacingAndGlyphs">sgKIF4A-2</text>
<path d="M436.48,770V706.5H443.48V770" fill="#fff" stroke="#000" stroke-width="2.6" stroke-linejoin="miter"/>
<line x1="439.98" y1="696.6" x2="439.98" y2="714" stroke="#000" stroke-width="1.2"/>
<line x1="437.23" y1="696.6" x2="442.73" y2="696.6" stroke="#000" stroke-width="1.2"/>
<line x1="437.23" y1="714" x2="442.73" y2="714" stroke="#000" stroke-width="1.2"/>
<ellipse cx="439.7" cy="692.5" rx="2.1" ry="2.5" fill="#000"/>
<ellipse cx="439.7" cy="705" rx="2.1" ry="2.5" fill="#000"/>
<ellipse cx="439.7" cy="721.6" rx="2.1" ry="2.5" fill="#000"/>
<line x1="439.98" y1="770" x2="439.98" y2="774.6" stroke="#000" stroke-width="1.6"/>
<text transform="translate(440.28 775.4) rotate(-90)" x="0" y="3.01" font-size="8.4" text-anchor="end" font-weight="bold" fill="#111" textLength="19.3" lengthAdjust="spacingAndGlyphs">sgNC</text>
<path d="M450.32,770V746.7H457.32V770" fill="#fff" stroke="#9a9a9a" stroke-width="2.6" stroke-linejoin="miter"/>
<line x1="453.82" y1="738.6" x2="453.82" y2="752" stroke="#000" stroke-width="1.2"/>
<line x1="451.07" y1="738.6" x2="456.57" y2="738.6" stroke="#000" stroke-width="1.2"/>
<line x1="451.07" y1="752" x2="456.57" y2="752" stroke="#000" stroke-width="1.2"/>
<ellipse cx="453.4" cy="732.5" rx="2.1" ry="2.5" fill="#000"/>
<ellipse cx="453.4" cy="746.5" rx="2.1" ry="2.5" fill="#000"/>
<ellipse cx="453.4" cy="756.7" rx="2.1" ry="2.5" fill="#000"/>
<line x1="453.82" y1="770" x2="453.82" y2="774.6" stroke="#000" stroke-width="1.6"/>
<text transform="translate(454.12 775.4) rotate(-90)" x="0" y="3.01" font-size="8.4" text-anchor="end" font-weight="bold" fill="#111" textLength="37" lengthAdjust="spacingAndGlyphs">sgKIF4A-1</text>
<path d="M464.16,770V736.9H471.16V770" fill="#fff" stroke="#9a9a9a" stroke-width="2.6" stroke-linejoin="miter"/>
<line x1="467.66" y1="730.2" x2="467.66" y2="740" stroke="#000" stroke-width="1.2"/>
<line x1="464.91" y1="730.2" x2="470.41" y2="730.2" stroke="#000" stroke-width="1.2"/>
<line x1="464.91" y1="740" x2="470.41" y2="740" stroke="#000" stroke-width="1.2"/>
<ellipse cx="467" cy="725" rx="2.1" ry="2.5" fill="#000"/>
<ellipse cx="464.7" cy="740.9" rx="2.1" ry="2.5" fill="#000"/>
<ellipse cx="470.4" cy="739.7" rx="2.1" ry="2.5" fill="#000"/>
<line x1="467.66" y1="770" x2="467.66" y2="774.6" stroke="#000" stroke-width="1.6"/>
<text transform="translate(467.96 775.4) rotate(-90)" x="0" y="3.01" font-size="8.4" text-anchor="end" font-weight="bold" fill="#111" textLength="37" lengthAdjust="spacingAndGlyphs">sgKIF4A-2</text>
<path d="M478,770V655.3H485V770" fill="#fff" stroke="#000" stroke-width="2.6" stroke-linejoin="miter"/>
<line x1="481.5" y1="651" x2="481.5" y2="657.6" stroke="#000" stroke-width="1.2"/>
<line x1="478.75" y1="651" x2="484.25" y2="651" stroke="#000" stroke-width="1.2"/>
<line x1="478.75" y1="657.6" x2="484.25" y2="657.6" stroke="#000" stroke-width="1.2"/>
<ellipse cx="481.2" cy="648.1" rx="2.1" ry="2.5" fill="#000"/>
<ellipse cx="481.2" cy="658.2" rx="2.1" ry="2.5" fill="#000"/>
<ellipse cx="481.2" cy="661.5" rx="2.1" ry="2.5" fill="#000"/>
<line x1="481.5" y1="770" x2="481.5" y2="774.6" stroke="#000" stroke-width="1.6"/>
<text transform="translate(481.8 775.4) rotate(-90)" x="0" y="3.01" font-size="8.4" text-anchor="end" font-weight="bold" fill="#111" textLength="19.3" lengthAdjust="spacingAndGlyphs">sgNC</text>
<path d="M491.84,770V661.5H498.84V770" fill="#fff" stroke="#9a1d17" stroke-width="2.6" stroke-linejoin="miter"/>
<ellipse cx="492.8" cy="661.5" rx="2.1" ry="2.5" fill="#000"/>
<ellipse cx="495.7" cy="659.6" rx="2.1" ry="2.5" fill="#000"/>
<ellipse cx="498.3" cy="660.9" rx="2.1" ry="2.5" fill="#000"/>
<line x1="495.34" y1="770" x2="495.34" y2="774.6" stroke="#000" stroke-width="1.6"/>
<text transform="translate(495.64 775.4) rotate(-90)" x="0" y="3.01" font-size="8.4" text-anchor="end" font-weight="bold" fill="#111" textLength="37" lengthAdjust="spacingAndGlyphs">sgKIF4A-1</text>
<path d="M505.68,770V655.6H512.68V770" fill="#fff" stroke="#9a1d17" stroke-width="2.6" stroke-linejoin="miter"/>
<line x1="509.18" y1="652" x2="509.18" y2="657" stroke="#000" stroke-width="1.2"/>
<line x1="506.43" y1="652" x2="511.93" y2="652" stroke="#000" stroke-width="1.2"/>
<line x1="506.43" y1="657" x2="511.93" y2="657" stroke="#000" stroke-width="1.2"/>
<ellipse cx="508.8" cy="650.8" rx="2.1" ry="2.5" fill="#000"/>
<ellipse cx="506.9" cy="656.9" rx="2.1" ry="2.5" fill="#000"/>
<ellipse cx="511.5" cy="656.3" rx="2.1" ry="2.5" fill="#000"/>
<line x1="509.18" y1="770" x2="509.18" y2="774.6" stroke="#000" stroke-width="1.6"/>
<text transform="translate(509.48 775.4) rotate(-90)" x="0" y="3.01" font-size="8.4" text-anchor="end" font-weight="bold" fill="#111" textLength="37" lengthAdjust="spacingAndGlyphs">sgKIF4A-2</text>
<path d="M519.52,770V657.8H526.52V770" fill="#fff" stroke="#000" stroke-width="2.6" stroke-linejoin="miter"/>
<ellipse cx="520.3" cy="654.6" rx="2.1" ry="2.5" fill="#000"/>
<ellipse cx="520.3" cy="659.2" rx="2.1" ry="2.5" fill="#000"/>
<ellipse cx="524.9" cy="657.2" rx="2.1" ry="2.5" fill="#000"/>
<line x1="523.02" y1="770" x2="523.02" y2="774.6" stroke="#000" stroke-width="1.6"/>
<text transform="translate(523.32 775.4) rotate(-90)" x="0" y="3.01" font-size="8.4" text-anchor="end" font-weight="bold" fill="#111" textLength="19.3" lengthAdjust="spacingAndGlyphs">sgNC</text>
<path d="M533.36,770V660.2H540.36V770" fill="#fff" stroke="#2d3a8c" stroke-width="2.6" stroke-linejoin="miter"/>
<ellipse cx="534.7" cy="659.8" rx="2.1" ry="2.5" fill="#000"/>
<ellipse cx="536.3" cy="657.2" rx="2.1" ry="2.5" fill="#000"/>
<ellipse cx="538.6" cy="659.4" rx="2.1" ry="2.5" fill="#000"/>
<line x1="536.86" y1="770" x2="536.86" y2="774.6" stroke="#000" stroke-width="1.6"/>
<text transform="translate(537.16 775.4) rotate(-90)" x="0" y="3.01" font-size="8.4" text-anchor="end" font-weight="bold" fill="#111" textLength="37" lengthAdjust="spacingAndGlyphs">sgKIF4A-1</text>
<path d="M547.2,770V656.5H554.2V770" fill="#fff" stroke="#2d3a8c" stroke-width="2.6" stroke-linejoin="miter"/>
<line x1="550.7" y1="653" x2="550.7" y2="661" stroke="#000" stroke-width="1.2"/>
<line x1="547.95" y1="653" x2="553.45" y2="653" stroke="#000" stroke-width="1.2"/>
<line x1="547.95" y1="661" x2="553.45" y2="661" stroke="#000" stroke-width="1.2"/>
<ellipse cx="547.8" cy="650.6" rx="2.1" ry="2.5" fill="#000"/>
<ellipse cx="552.4" cy="653.2" rx="2.1" ry="2.5" fill="#000"/>
<ellipse cx="549.8" cy="660.5" rx="2.1" ry="2.5" fill="#000"/>
<line x1="550.7" y1="770" x2="550.7" y2="774.6" stroke="#000" stroke-width="1.6"/>
<text transform="translate(551 775.4) rotate(-90)" x="0" y="3.01" font-size="8.4" text-anchor="end" font-weight="bold" fill="#111" textLength="37" lengthAdjust="spacingAndGlyphs">sgKIF4A-2</text>
<path d="M561.04,770V651.9H568.04V770" fill="#fff" stroke="#000" stroke-width="2.6" stroke-linejoin="miter"/>
<ellipse cx="561.6" cy="648.4" rx="2.1" ry="2.5" fill="#000"/>
<ellipse cx="564.3" cy="651.3" rx="2.1" ry="2.5" fill="#000"/>
<ellipse cx="567.6" cy="651" rx="2.1" ry="2.5" fill="#000"/>
<line x1="564.54" y1="770" x2="564.54" y2="774.6" stroke="#000" stroke-width="1.6"/>
<text transform="translate(564.84 775.4) rotate(-90)" x="0" y="3.01" font-size="8.4" text-anchor="end" font-weight="bold" fill="#111" textLength="19.3" lengthAdjust="spacingAndGlyphs">sgNC</text>
<path d="M574.88,770V651.9H581.88V770" fill="#fff" stroke="#5e2aa5" stroke-width="2.6" stroke-linejoin="miter"/>
<ellipse cx="577.8" cy="647.3" rx="2.1" ry="2.5" fill="#000"/>
<ellipse cx="575.4" cy="653.2" rx="2.1" ry="2.5" fill="#000"/>
<ellipse cx="580.7" cy="651.9" rx="2.1" ry="2.5" fill="#000"/>
<line x1="578.38" y1="770" x2="578.38" y2="774.6" stroke="#000" stroke-width="1.6"/>
<text transform="translate(578.68 775.4) rotate(-90)" x="0" y="3.01" font-size="8.4" text-anchor="end" font-weight="bold" fill="#111" textLength="37" lengthAdjust="spacingAndGlyphs">sgKIF4A-1</text>
<path d="M588.72,770V661.8H595.72V770" fill="#fff" stroke="#5e2aa5" stroke-width="2.6" stroke-linejoin="miter"/>
<line x1="592.22" y1="655" x2="592.22" y2="664.4" stroke="#000" stroke-width="1.2"/>
<line x1="589.47" y1="655" x2="594.97" y2="655" stroke="#000" stroke-width="1.2"/>
<line x1="589.47" y1="664.4" x2="594.97" y2="664.4" stroke="#000" stroke-width="1.2"/>
<ellipse cx="591.5" cy="651.3" rx="2.1" ry="2.5" fill="#000"/>
<ellipse cx="591.5" cy="660.2" rx="2.1" ry="2.5" fill="#000"/>
<ellipse cx="591.5" cy="669.9" rx="2.1" ry="2.5" fill="#000"/>
<line x1="592.22" y1="770" x2="592.22" y2="774.6" stroke="#000" stroke-width="1.6"/>
<text transform="translate(592.52 775.4) rotate(-90)" x="0" y="3.01" font-size="8.4" text-anchor="end" font-weight="bold" fill="#111" textLength="37" lengthAdjust="spacingAndGlyphs">sgKIF4A-2</text>
<path d="M602.56,770V657.8H609.56V770" fill="#fff" stroke="#000" stroke-width="2.6" stroke-linejoin="miter"/>
<ellipse cx="605.3" cy="652.2" rx="2.1" ry="2.5" fill="#000"/>
<ellipse cx="604.5" cy="656" rx="2.1" ry="2.5" fill="#000"/>
<ellipse cx="604.7" cy="659.4" rx="2.1" ry="2.5" fill="#000"/>
<line x1="606.06" y1="770" x2="606.06" y2="774.6" stroke="#000" stroke-width="1.6"/>
<text transform="translate(606.36 775.4) rotate(-90)" x="0" y="3.01" font-size="8.4" text-anchor="end" font-weight="bold" fill="#111" textLength="19.3" lengthAdjust="spacingAndGlyphs">sgNC</text>
<path d="M616.4,770V651.7H623.4V770" fill="#fff" stroke="#5b93cf" stroke-width="2.6" stroke-linejoin="miter"/>
<line x1="619.9" y1="647.2" x2="619.9" y2="654" stroke="#000" stroke-width="1.2"/>
<line x1="617.15" y1="647.2" x2="622.65" y2="647.2" stroke="#000" stroke-width="1.2"/>
<line x1="617.15" y1="654" x2="622.65" y2="654" stroke="#000" stroke-width="1.2"/>
<ellipse cx="619.4" cy="643.6" rx="2.1" ry="2.5" fill="#000"/>
<ellipse cx="619.4" cy="650.8" rx="2.1" ry="2.5" fill="#000"/>
<ellipse cx="619.4" cy="656.5" rx="2.1" ry="2.5" fill="#000"/>
<line x1="619.9" y1="770" x2="619.9" y2="774.6" stroke="#000" stroke-width="1.6"/>
<text transform="translate(620.2 775.4) rotate(-90)" x="0" y="3.01" font-size="8.4" text-anchor="end" font-weight="bold" fill="#111" textLength="37" lengthAdjust="spacingAndGlyphs">sgKIF4A-1</text>
<path d="M630.24,770V659.7H637.24V770" fill="#fff" stroke="#5b93cf" stroke-width="2.6" stroke-linejoin="miter"/>
<ellipse cx="630.1" cy="659.4" rx="2.1" ry="2.5" fill="#000"/>
<ellipse cx="633" cy="656.5" rx="2.1" ry="2.5" fill="#000"/>
<ellipse cx="635.8" cy="659.4" rx="2.1" ry="2.5" fill="#000"/>
<line x1="633.74" y1="770" x2="633.74" y2="774.6" stroke="#000" stroke-width="1.6"/>
<text transform="translate(634.04 775.4) rotate(-90)" x="0" y="3.01" font-size="8.4" text-anchor="end" font-weight="bold" fill="#111" textLength="37" lengthAdjust="spacingAndGlyphs">sgKIF4A-2</text>
<path d="M644.08,770V655.7H651.08V770" fill="#fff" stroke="#000" stroke-width="2.6" stroke-linejoin="miter"/>
<line x1="647.58" y1="652.2" x2="647.58" y2="658.7" stroke="#000" stroke-width="1.2"/>
<line x1="644.83" y1="652.2" x2="650.33" y2="652.2" stroke="#000" stroke-width="1.2"/>
<line x1="644.83" y1="658.7" x2="650.33" y2="658.7" stroke="#000" stroke-width="1.2"/>
<ellipse cx="644.4" cy="649.4" rx="2.1" ry="2.5" fill="#000"/>
<ellipse cx="649.5" cy="649.4" rx="2.1" ry="2.5" fill="#000"/>
<ellipse cx="646.9" cy="663.7" rx="2.1" ry="2.5" fill="#000"/>
<line x1="647.58" y1="770" x2="647.58" y2="774.6" stroke="#000" stroke-width="1.6"/>
<text transform="translate(647.88 775.4) rotate(-90)" x="0" y="3.01" font-size="8.4" text-anchor="end" font-weight="bold" fill="#111" textLength="19.3" lengthAdjust="spacingAndGlyphs">sgNC</text>
<path d="M657.92,770V707.3H664.92V770" fill="#fff" stroke="#9a9a9a" stroke-width="2.6" stroke-linejoin="miter"/>
<line x1="661.42" y1="695.2" x2="661.42" y2="715.7" stroke="#000" stroke-width="1.2"/>
<line x1="658.67" y1="695.2" x2="664.17" y2="695.2" stroke="#000" stroke-width="1.2"/>
<line x1="658.67" y1="715.7" x2="664.17" y2="715.7" stroke="#000" stroke-width="1.2"/>
<ellipse cx="660.6" cy="688.5" rx="2.1" ry="2.5" fill="#000"/>
<ellipse cx="660.6" cy="704.8" rx="2.1" ry="2.5" fill="#000"/>
<ellipse cx="660.6" cy="725.3" rx="2.1" ry="2.5" fill="#000"/>
<line x1="661.42" y1="770" x2="661.42" y2="774.6" stroke="#000" stroke-width="1.6"/>
<text transform="translate(661.72 775.4) rotate(-90)" x="0" y="3.01" font-size="8.4" text-anchor="end" font-weight="bold" fill="#111" textLength="37" lengthAdjust="spacingAndGlyphs">sgKIF4A-1</text>
<path d="M671.76,770V698.7H678.76V770" fill="#fff" stroke="#9a9a9a" stroke-width="2.6" stroke-linejoin="miter"/>
<line x1="675.26" y1="688.8" x2="675.26" y2="706.7" stroke="#000" stroke-width="1.2"/>
<line x1="672.51" y1="688.8" x2="678.01" y2="688.8" stroke="#000" stroke-width="1.2"/>
<line x1="672.51" y1="706.7" x2="678.01" y2="706.7" stroke="#000" stroke-width="1.2"/>
<ellipse cx="672.1" cy="686.6" rx="2.1" ry="2.5" fill="#000"/>
<ellipse cx="676.7" cy="689.9" rx="2.1" ry="2.5" fill="#000"/>
<ellipse cx="674.5" cy="716" rx="2.1" ry="2.5" fill="#000"/>
<line x1="675.26" y1="770" x2="675.26" y2="774.6" stroke="#000" stroke-width="1.6"/>
<text transform="translate(675.56 775.4) rotate(-90)" x="0" y="3.01" font-size="8.4" text-anchor="end" font-weight="bold" fill="#111" textLength="37" lengthAdjust="spacingAndGlyphs">sgKIF4A-2</text>
<line x1="264.5" y1="769.8" x2="685" y2="769.8" stroke="#000" stroke-width="2.2"/>
<text x="288" y="691.09" font-size="9.2" text-anchor="middle" fill="#222" textLength="10.2" lengthAdjust="spacingAndGlyphs">ns</text>
<text x="301.1" y="673.39" font-size="9.2" text-anchor="middle" fill="#222" textLength="10.2" lengthAdjust="spacingAndGlyphs">ns</text>
<text x="329.4" y="684.29" font-size="9.2" text-anchor="middle" fill="#222" textLength="10.2" lengthAdjust="spacingAndGlyphs">ns</text>
<text x="342.5" y="684.99" font-size="9.2" text-anchor="middle" fill="#222" textLength="10.2" lengthAdjust="spacingAndGlyphs">ns</text>
<text x="370" y="691.09" font-size="9.2" text-anchor="middle" fill="#222" textLength="10.2" lengthAdjust="spacingAndGlyphs">ns</text>
<text x="384.4" y="691.09" font-size="9.2" text-anchor="middle" fill="#222" textLength="10.2" lengthAdjust="spacingAndGlyphs">ns</text>
<text x="411.4" y="691.09" font-size="9.2" text-anchor="middle" fill="#222" textLength="10.2" lengthAdjust="spacingAndGlyphs">ns</text>
<text x="425.8" y="694.39" font-size="9.2" text-anchor="middle" fill="#222" textLength="10.2" lengthAdjust="spacingAndGlyphs">ns</text>
<text x="493.7" y="653.29" font-size="9.2" text-anchor="middle" fill="#222" textLength="10.2" lengthAdjust="spacingAndGlyphs">ns</text>
<text x="508.2" y="645.59" font-size="9.2" text-anchor="middle" fill="#222" textLength="10.2" lengthAdjust="spacingAndGlyphs">ns</text>
<text x="535" y="650.49" font-size="9.2" text-anchor="middle" fill="#222" textLength="10.2" lengthAdjust="spacingAndGlyphs">ns</text>
<text x="547.2" y="643.89" font-size="9.2" text-anchor="middle" fill="#222" textLength="10.2" lengthAdjust="spacingAndGlyphs">ns</text>
<text x="577.8" y="642.39" font-size="9.2" text-anchor="middle" fill="#222" textLength="10.2" lengthAdjust="spacingAndGlyphs">ns</text>
<text x="591" y="646.29" font-size="9.2" text-anchor="middle" fill="#222" textLength="10.2" lengthAdjust="spacingAndGlyphs">ns</text>
<text x="619.4" y="640.39" font-size="9.2" text-anchor="middle" fill="#222" textLength="10.2" lengthAdjust="spacingAndGlyphs">ns</text>
<text x="632.5" y="650.39" font-size="9.2" text-anchor="middle" fill="#222" textLength="10.2" lengthAdjust="spacingAndGlyphs">ns</text>
<text transform="translate(453.4 710.2) rotate(-90)" x="0" y="2.58" font-size="7.2" text-anchor="middle" fill="#222" textLength="27.2" lengthAdjust="spacingAndGlyphs">p = 0.0235</text>
<text transform="translate(467.4 702.3) rotate(-90)" x="0" y="2.58" font-size="7.2" text-anchor="middle" fill="#222" textLength="27.2" lengthAdjust="spacingAndGlyphs">p = 0.0431</text>
<text transform="translate(658.8 668) rotate(-90)" x="0" y="2.58" font-size="7.2" text-anchor="middle" fill="#222" textLength="27.2" lengthAdjust="spacingAndGlyphs">p = 0.0110</text>
<text transform="translate(673.1 664.4) rotate(-90)" x="0" y="2.58" font-size="7.2" text-anchor="middle" fill="#222" textLength="27.2" lengthAdjust="spacingAndGlyphs">p = 0.0138</text>
<line x1="277.5" y1="820.9" x2="308.8" y2="820.9" stroke="#000" stroke-width="2.4"/>
<line x1="319.2" y1="820.9" x2="352.6" y2="820.9" stroke="#000" stroke-width="2.4"/>
<line x1="359.4" y1="820.9" x2="396.3" y2="820.9" stroke="#000" stroke-width="2.4"/>
<line x1="401.1" y1="820.9" x2="436.4" y2="820.9" stroke="#000" stroke-width="2.4"/>
<line x1="442.9" y1="820.9" x2="476.2" y2="820.9" stroke="#000" stroke-width="2.4"/>
<line x1="482.7" y1="820.9" x2="518" y2="820.9" stroke="#000" stroke-width="2.4"/>
<line x1="524.4" y1="820.9" x2="559.7" y2="820.9" stroke="#000" stroke-width="2.4"/>
<line x1="567.8" y1="820.9" x2="601.5" y2="820.9" stroke="#000" stroke-width="2.4"/>
<line x1="608.9" y1="820.9" x2="643.2" y2="820.9" stroke="#000" stroke-width="2.4"/>
<line x1="652.9" y1="820.9" x2="679.5" y2="820.9" stroke="#000" stroke-width="2.4"/>
<text x="294.2" y="829.58" font-size="7.2" text-anchor="middle" fill="#222" textLength="37.2" lengthAdjust="spacingAndGlyphs">OVACAR3i</text>
<text x="377" y="829.58" font-size="7.2" text-anchor="middle" fill="#222" textLength="21" lengthAdjust="spacingAndGlyphs">A549i</text>
<text x="419.4" y="829.58" font-size="7.2" text-anchor="middle" fill="#222" textLength="21" lengthAdjust="spacingAndGlyphs">H358i</text>
<text x="460" y="829.58" font-size="7.2" text-anchor="middle" fill="#222" textLength="22" lengthAdjust="spacingAndGlyphs">DLD1i</text>
<text x="500.3" y="829.58" font-size="7.2" text-anchor="middle" fill="#222" textLength="37.2" lengthAdjust="spacingAndGlyphs">OVACAR3i</text>
<text x="583.8" y="829.58" font-size="7.2" text-anchor="middle" fill="#222" textLength="21" lengthAdjust="spacingAndGlyphs">A549i</text>
<text x="626.2" y="829.58" font-size="7.2" text-anchor="middle" fill="#222" textLength="21" lengthAdjust="spacingAndGlyphs">H358i</text>
<text x="668.9" y="829.58" font-size="7.2" text-anchor="middle" fill="#222" textLength="22" lengthAdjust="spacingAndGlyphs">DLD1i</text>
<text x="323.7" y="829.58" font-size="7.2" fill="#222" textLength="19" lengthAdjust="spacingAndGlyphs">MDA-</text>
<text x="323.7" y="837.38" font-size="7.2" fill="#222" textLength="25.6" lengthAdjust="spacingAndGlyphs">MB231i</text>
<text x="530.8" y="829.58" font-size="7.2" fill="#222" textLength="19" lengthAdjust="spacingAndGlyphs">MDA-</text>
<text x="530.8" y="837.38" font-size="7.2" fill="#222" textLength="25.6" lengthAdjust="spacingAndGlyphs">MB231i</text>
</svg>
</body></html>
